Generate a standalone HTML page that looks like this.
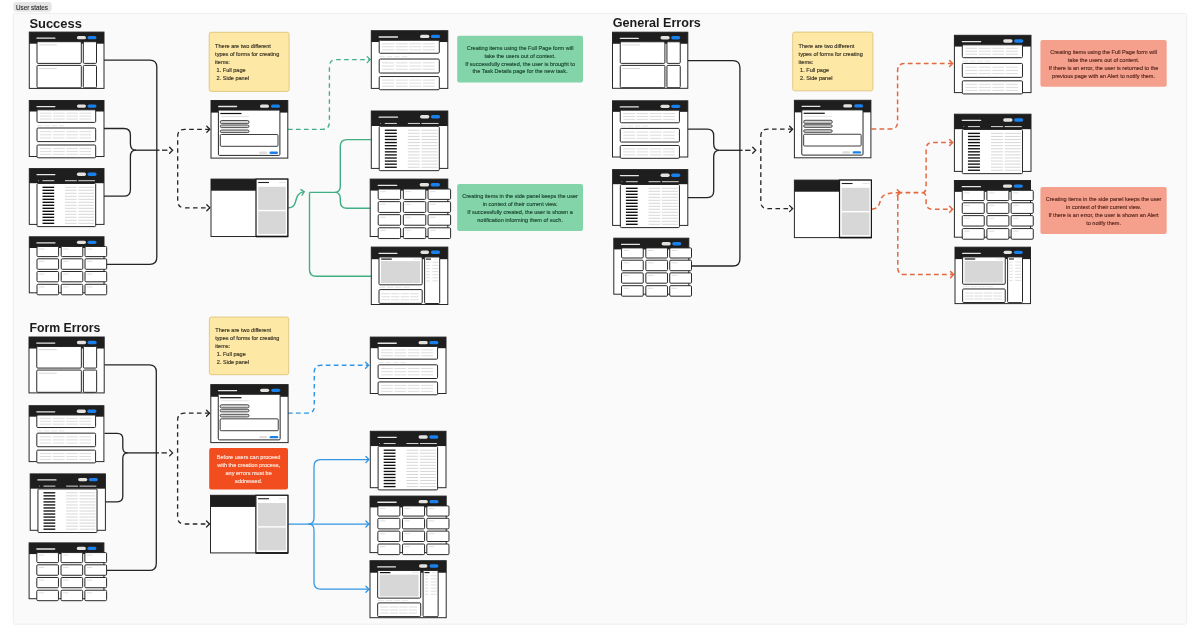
<!DOCTYPE html>
<html><head><meta charset="utf-8"><title>User states</title>
<style>html,body{margin:0;padding:0;background:#fff;width:1200px;height:638px;overflow:hidden}svg{display:block;will-change:transform;font-family:"Liberation Sans",sans-serif}</style>
</head><body>
<svg width="1200" height="638" viewBox="0 0 1200 638">
<rect x="0" y="0" width="1200" height="638" fill="#ffffff"/>
<rect x="13.3" y="13.3" width="1173.3" height="610.9" rx="2" fill="#fafafa" stroke="#ececec" stroke-width="0.9"/>
<rect x="13.3" y="2.1" width="38.4" height="9.6" rx="3" fill="#e5e5e5"/>
<text x="16" y="9.6" font-family="Liberation Sans, sans-serif" font-size="6.3" fill="#2a2a2a" stroke="#2a2a2a" stroke-width="0.12">User states</text>
<text x="29.4" y="27.5" font-family="Liberation Sans, sans-serif" font-weight="bold" font-size="12.9" fill="#1b1b1b" textLength="52.5" lengthAdjust="spacingAndGlyphs">Success</text>
<text x="612.8" y="27.1" font-family="Liberation Sans, sans-serif" font-weight="bold" font-size="12.57" fill="#1b1b1b" textLength="88" lengthAdjust="spacingAndGlyphs">General Errors</text>
<text x="29.4" y="331.7" font-family="Liberation Sans, sans-serif" font-weight="bold" font-size="12.3" fill="#1b1b1b" textLength="71" lengthAdjust="spacingAndGlyphs">Form Errors</text>
<path d="M104,60.1 H149.8 Q156.8,60.1 156.8,67.1 V257.3 Q156.8,264.3 149.8,264.3 H106" fill="none" stroke="#242424" stroke-width="1.3" stroke-linecap="butt" stroke-linejoin="round"/>
<path d="M104,128.5 H123.9 Q130.4,128.5 130.4,135 V143.7 Q130.4,150.2 136,150.2" fill="none" stroke="#242424" stroke-width="1.3" stroke-linecap="butt" stroke-linejoin="round"/>
<path d="M104,196.2 H123.9 Q130.4,196.2 130.4,189.7 V156.7 Q130.4,150.2 136,150.2" fill="none" stroke="#242424" stroke-width="1.3" stroke-linecap="butt" stroke-linejoin="round"/>
<path d="M136,150.2 H159.5" fill="none" stroke="#242424" stroke-width="1.3" stroke-linecap="butt" stroke-linejoin="round"/>
<path d="M162,150.2 H167.4" fill="none" stroke="#242424" stroke-width="1.3" stroke-linecap="butt" stroke-linejoin="round"/>
<path d="M169.6,147.2 L172.6,150.2 L169.6,153.2" fill="none" stroke="#242424" stroke-width="1.3" stroke-linejoin="miter" stroke-linecap="round"/>
<path d="M209.8,129.3 H184.7 Q177.7,129.3 177.7,136.3 V200.8 Q177.7,207.8 184.7,207.8 H209.8" fill="none" stroke="#242424" stroke-width="1.3" stroke-linecap="butt" stroke-linejoin="round" stroke-dasharray="4.6 3.4"/>
<path d="M206.8,126.3 L209.8,129.3 L206.8,132.3" fill="none" stroke="#242424" stroke-width="1.3" stroke-linejoin="miter" stroke-linecap="round"/>
<path d="M206.8,204.8 L209.8,207.8 L206.8,210.8" fill="none" stroke="#242424" stroke-width="1.3" stroke-linejoin="miter" stroke-linecap="round"/>
<path d="M288,129.3 H322.4 Q329.4,129.3 329.4,122.3 V66.6 Q329.4,59.6 336.4,59.6 H370" fill="none" stroke="#40af83" stroke-width="1.35" stroke-linecap="butt" stroke-linejoin="round" stroke-dasharray="4.6 3.4"/>
<path d="M367.2,56.6 L370.2,59.6 L367.2,62.6" fill="none" stroke="#40af83" stroke-width="1.3" stroke-linejoin="miter" stroke-linecap="round"/>
<path d="M288.3,207.8 C294.5,207.8 295.2,203 296.3,199 C297.5,194.5 300,192.3 303.8,191.9" fill="none" stroke="#40af83" stroke-width="1.4" stroke-linecap="butt" stroke-linejoin="round"/>
<path d="M300.88,189.64 L304.2,191.8 L302.04,195.12" fill="none" stroke="#40af83" stroke-width="1.4" stroke-linejoin="miter" stroke-linecap="round"/>
<path d="M309.5,192.4 H335 M309.5,192.4 V269.8 Q309.5,276.3 316,276.3 H371" fill="none" stroke="#40af83" stroke-width="1.4" stroke-linecap="butt" stroke-linejoin="round"/>
<path d="M335,192.4 Q340.3,192.4 340.3,186 V146.3 Q340.3,139.6 347,139.6 H371" fill="none" stroke="#40af83" stroke-width="1.4" stroke-linecap="butt" stroke-linejoin="round"/>
<path d="M335,192.4 Q340.3,192.4 340.3,199 V201.6 Q340.3,208.3 347,208.3 H370" fill="none" stroke="#40af83" stroke-width="1.4" stroke-linecap="butt" stroke-linejoin="round"/>
<path d="M687.1,60.6 H732.9 Q739.9,60.6 739.9,67.6 V259 Q739.9,266 732.9,266 H691.7" fill="none" stroke="#242424" stroke-width="1.3" stroke-linecap="butt" stroke-linejoin="round"/>
<path d="M687.1,129.2 H707.2 Q713.7,129.2 713.7,135.7 V143.8 Q713.7,150.3 719.1,150.3" fill="none" stroke="#242424" stroke-width="1.3" stroke-linecap="butt" stroke-linejoin="round"/>
<path d="M687.1,197.6 H707.2 Q713.7,197.6 713.7,191.1 V156.8 Q713.7,150.3 719.1,150.3" fill="none" stroke="#242424" stroke-width="1.3" stroke-linecap="butt" stroke-linejoin="round"/>
<path d="M719.1,150.3 H742.6" fill="none" stroke="#242424" stroke-width="1.3" stroke-linecap="butt" stroke-linejoin="round"/>
<path d="M745.1,150.3 H750.5" fill="none" stroke="#242424" stroke-width="1.3" stroke-linecap="butt" stroke-linejoin="round"/>
<path d="M752.7,147.3 L755.7,150.3 L752.7,153.3" fill="none" stroke="#242424" stroke-width="1.3" stroke-linejoin="miter" stroke-linecap="round"/>
<path d="M792.6,129.2 H767.8 Q760.8,129.2 760.8,136.2 V201.6 Q760.8,208.6 767.8,208.6 H792.6" fill="none" stroke="#242424" stroke-width="1.3" stroke-linecap="butt" stroke-linejoin="round" stroke-dasharray="4.6 3.4"/>
<path d="M789.6,126.2 L792.6,129.2 L789.6,132.2" fill="none" stroke="#242424" stroke-width="1.3" stroke-linejoin="miter" stroke-linecap="round"/>
<path d="M789.6,205.6 L792.6,208.6 L789.6,211.6" fill="none" stroke="#242424" stroke-width="1.3" stroke-linejoin="miter" stroke-linecap="round"/>
<path d="M871.5,129 H890.6 Q897.6,129 897.6,122 V70.5 Q897.6,63.5 904.6,63.5 H952" fill="none" stroke="#e4683f" stroke-width="1.5" stroke-linecap="butt" stroke-linejoin="round" stroke-dasharray="4.7 3.3"/>
<path d="M949.6,60.5 L952.6,63.5 L949.6,66.5" fill="none" stroke="#e4683f" stroke-width="1.5" stroke-linejoin="miter" stroke-linecap="round"/>
<path d="M871.8,209.2 C879,209.2 879.5,203 880.8,199.5 C882,195.5 885,193 899.5,192.7" fill="none" stroke="#e4683f" stroke-width="1.5" stroke-linecap="butt" stroke-linejoin="round" stroke-dasharray="4.7 3.3"/>
<path d="M897.3,189.8 L900.2,192.7 L897.3,195.6" fill="none" stroke="#e4683f" stroke-width="1.5" stroke-linejoin="miter" stroke-linecap="round"/>
<path d="M897.6,192.7 H922.7" fill="none" stroke="#e4683f" stroke-width="1.8" stroke-linecap="butt" stroke-linejoin="round" stroke-dasharray="4.7 3.3"/>
<path d="M897.8,196 V268 Q897.8,274.6 904.4,274.6 H953" fill="none" stroke="#e4683f" stroke-width="1.5" stroke-linecap="butt" stroke-linejoin="round" stroke-dasharray="4.7 3.3"/>
<path d="M950.6,271.6 L953.6,274.6 L950.6,277.6" fill="none" stroke="#e4683f" stroke-width="1.5" stroke-linejoin="miter" stroke-linecap="round"/>
<path d="M922.7,192.7 Q926.1,192.7 926.1,186 V149 Q926.1,142.5 932.6,142.5 H952" fill="none" stroke="#e4683f" stroke-width="1.5" stroke-linecap="butt" stroke-linejoin="round" stroke-dasharray="4.7 3.3"/>
<path d="M949.6,139.5 L952.6,142.5 L949.6,145.5" fill="none" stroke="#e4683f" stroke-width="1.5" stroke-linejoin="miter" stroke-linecap="round"/>
<path d="M922.7,192.7 Q926.1,192.7 926.1,199.5 V202.6 Q926.1,209.2 932.6,209.2 H952" fill="none" stroke="#e4683f" stroke-width="1.5" stroke-linecap="butt" stroke-linejoin="round" stroke-dasharray="4.7 3.3"/>
<path d="M949.6,206.2 L952.6,209.2 L949.6,212.2" fill="none" stroke="#e4683f" stroke-width="1.5" stroke-linejoin="miter" stroke-linecap="round"/>
<path d="M104.3,364.8 H149.3 Q156.3,364.8 156.3,371.8 V563.4 Q156.3,570.4 149.3,570.4 H106.5" fill="none" stroke="#242424" stroke-width="1.3" stroke-linecap="butt" stroke-linejoin="round"/>
<path d="M104.5,433.3 H117.3 Q122.8,433.3 122.8,438.8 V447.4 Q122.8,452.9 127.8,452.9" fill="none" stroke="#242424" stroke-width="1.3" stroke-linecap="butt" stroke-linejoin="round"/>
<path d="M105.4,501.8 H117.3 Q122.8,501.8 122.8,496.3 V458.4 Q122.8,452.9 127.8,452.9" fill="none" stroke="#242424" stroke-width="1.3" stroke-linecap="butt" stroke-linejoin="round"/>
<path d="M127.8,452.9 H159" fill="none" stroke="#242424" stroke-width="1.3" stroke-linecap="butt" stroke-linejoin="round"/>
<path d="M161.5,452.9 H166.9" fill="none" stroke="#242424" stroke-width="1.3" stroke-linecap="butt" stroke-linejoin="round"/>
<path d="M169.6,449.9 L172.6,452.9 L169.6,455.9" fill="none" stroke="#242424" stroke-width="1.3" stroke-linejoin="miter" stroke-linecap="round"/>
<path d="M209.5,413.2 H184.6 Q177.6,413.2 177.6,420.2 V517 Q177.6,524 184.6,524 H209.5" fill="none" stroke="#242424" stroke-width="1.3" stroke-linecap="butt" stroke-linejoin="round" stroke-dasharray="4.6 3.4"/>
<path d="M206.5,410.2 L209.5,413.2 L206.5,416.2" fill="none" stroke="#242424" stroke-width="1.3" stroke-linejoin="miter" stroke-linecap="round"/>
<path d="M206.5,521 L209.5,524 L206.5,527" fill="none" stroke="#242424" stroke-width="1.3" stroke-linejoin="miter" stroke-linecap="round"/>
<path d="M288,413.1 H307.6 Q314.3,413.1 314.3,406.4 V372 Q314.3,365.3 321,365.3 H368" fill="none" stroke="#3196e4" stroke-width="1.4" stroke-linecap="butt" stroke-linejoin="round" stroke-dasharray="4.7 3.3"/>
<path d="M365.6,362.3 L368.6,365.3 L365.6,368.3" fill="none" stroke="#3196e4" stroke-width="1.4" stroke-linejoin="miter" stroke-linecap="round"/>
<path d="M288.3,524 H368.3" fill="none" stroke="#3196e4" stroke-width="1.25" stroke-linecap="butt" stroke-linejoin="round"/>
<path d="M365.9,521 L368.9,524 L365.9,527" fill="none" stroke="#3196e4" stroke-width="1.35" stroke-linejoin="miter" stroke-linecap="round"/>
<path d="M308.5,524 Q314,524 314,518 V466.2 Q314,459.5 320.7,459.5 H368.3" fill="none" stroke="#3196e4" stroke-width="1.25" stroke-linecap="butt" stroke-linejoin="round"/>
<path d="M365.9,456.5 L368.9,459.5 L365.9,462.5" fill="none" stroke="#3196e4" stroke-width="1.35" stroke-linejoin="miter" stroke-linecap="round"/>
<path d="M308.5,524 Q314,524 314,530 V582.5 Q314,589.2 320.7,589.2 H368.3" fill="none" stroke="#3196e4" stroke-width="1.25" stroke-linecap="butt" stroke-linejoin="round"/>
<path d="M365.9,586.2 L368.9,589.2 L365.9,592.2" fill="none" stroke="#3196e4" stroke-width="1.35" stroke-linejoin="miter" stroke-linecap="round"/>
<rect x="29.3" y="32.1" width="74.7" height="56.3" fill="#fff" stroke="#282828" stroke-width="1"/>
<rect x="29.3" y="32.1" width="74.7" height="11.6" fill="#1e1e1e"/>
<line x1="37" y1="38.2" x2="54.9" y2="38.2" stroke="#e6e6e6" stroke-width="1.3" stroke-linecap="round"/>
<rect x="76.9" y="36" width="9.1" height="3.3" rx="1.65" fill="#e4e2df"/>
<rect x="87.5" y="36" width="9" height="3.3" rx="1.65" fill="#1a80eb"/>
<rect x="37" y="41.7" width="44.3" height="21.7" rx="1.1" fill="#fff" stroke="#282828" stroke-width="1"/>
<rect x="83.3" y="41.7" width="13.2" height="21.7" rx="1.1" fill="#fff" stroke="#282828" stroke-width="1"/>
<line x1="39.1" y1="44.9" x2="56.8" y2="44.9" stroke="#d3d3d3" stroke-width="0.9" stroke-linecap="butt"/>
<rect x="37" y="65.4" width="44.3" height="22.4" rx="1.1" fill="#fff" stroke="#282828" stroke-width="1"/>
<rect x="83.3" y="65.4" width="13.2" height="22.4" rx="1.1" fill="#fff" stroke="#282828" stroke-width="1"/>
<line x1="39.1" y1="68.6" x2="56.8" y2="68.6" stroke="#d3d3d3" stroke-width="0.9" stroke-linecap="butt"/>
<rect x="29.3" y="100.5" width="74.7" height="56" fill="#fff" stroke="#282828" stroke-width="1"/>
<rect x="29.3" y="100.5" width="74.7" height="11" fill="#1e1e1e"/>
<line x1="37" y1="106.6" x2="54.9" y2="106.6" stroke="#e6e6e6" stroke-width="1.3" stroke-linecap="round"/>
<rect x="76.9" y="104.4" width="9.1" height="3.3" rx="1.65" fill="#e4e2df"/>
<rect x="87.5" y="104.4" width="9" height="3.3" rx="1.65" fill="#1a80eb"/>
<rect x="37" y="109.8" width="58.7" height="12.6" rx="1.1" fill="#fff" stroke="#282828" stroke-width="1"/>
<line x1="40" y1="113.2" x2="51.59" y2="113.2" stroke="#d3d3d3" stroke-width="0.8" stroke-linecap="butt"/>
<line x1="53.17" y1="113.2" x2="64.77" y2="113.2" stroke="#d3d3d3" stroke-width="0.8" stroke-linecap="butt"/>
<line x1="66.35" y1="113.2" x2="77.94" y2="113.2" stroke="#d3d3d3" stroke-width="0.8" stroke-linecap="butt"/>
<line x1="79.53" y1="113.2" x2="91.12" y2="113.2" stroke="#d3d3d3" stroke-width="0.8" stroke-linecap="butt"/>
<line x1="40" y1="116.1" x2="51.59" y2="116.1" stroke="#d3d3d3" stroke-width="0.8" stroke-linecap="butt"/>
<line x1="53.17" y1="116.1" x2="64.77" y2="116.1" stroke="#d3d3d3" stroke-width="0.8" stroke-linecap="butt"/>
<line x1="66.35" y1="116.1" x2="77.94" y2="116.1" stroke="#d3d3d3" stroke-width="0.8" stroke-linecap="butt"/>
<line x1="79.53" y1="116.1" x2="91.12" y2="116.1" stroke="#d3d3d3" stroke-width="0.8" stroke-linecap="butt"/>
<line x1="40" y1="119" x2="51.59" y2="119" stroke="#d3d3d3" stroke-width="0.8" stroke-linecap="butt"/>
<line x1="53.17" y1="119" x2="64.77" y2="119" stroke="#d3d3d3" stroke-width="0.8" stroke-linecap="butt"/>
<line x1="66.35" y1="119" x2="77.94" y2="119" stroke="#d3d3d3" stroke-width="0.8" stroke-linecap="butt"/>
<line x1="79.53" y1="119" x2="91.12" y2="119" stroke="#d3d3d3" stroke-width="0.8" stroke-linecap="butt"/>
<rect x="37" y="128" width="58.7" height="13.6" rx="1.1" fill="#fff" stroke="#282828" stroke-width="1"/>
<line x1="40" y1="131.67" x2="51.59" y2="131.67" stroke="#d3d3d3" stroke-width="0.8" stroke-linecap="butt"/>
<line x1="53.17" y1="131.67" x2="64.77" y2="131.67" stroke="#d3d3d3" stroke-width="0.8" stroke-linecap="butt"/>
<line x1="66.35" y1="131.67" x2="77.94" y2="131.67" stroke="#d3d3d3" stroke-width="0.8" stroke-linecap="butt"/>
<line x1="79.53" y1="131.67" x2="91.12" y2="131.67" stroke="#d3d3d3" stroke-width="0.8" stroke-linecap="butt"/>
<line x1="40" y1="134.8" x2="51.59" y2="134.8" stroke="#d3d3d3" stroke-width="0.8" stroke-linecap="butt"/>
<line x1="53.17" y1="134.8" x2="64.77" y2="134.8" stroke="#d3d3d3" stroke-width="0.8" stroke-linecap="butt"/>
<line x1="66.35" y1="134.8" x2="77.94" y2="134.8" stroke="#d3d3d3" stroke-width="0.8" stroke-linecap="butt"/>
<line x1="79.53" y1="134.8" x2="91.12" y2="134.8" stroke="#d3d3d3" stroke-width="0.8" stroke-linecap="butt"/>
<line x1="40" y1="137.93" x2="51.59" y2="137.93" stroke="#d3d3d3" stroke-width="0.8" stroke-linecap="butt"/>
<line x1="53.17" y1="137.93" x2="64.77" y2="137.93" stroke="#d3d3d3" stroke-width="0.8" stroke-linecap="butt"/>
<line x1="66.35" y1="137.93" x2="77.94" y2="137.93" stroke="#d3d3d3" stroke-width="0.8" stroke-linecap="butt"/>
<line x1="79.53" y1="137.93" x2="91.12" y2="137.93" stroke="#d3d3d3" stroke-width="0.8" stroke-linecap="butt"/>
<rect x="37" y="145" width="58.7" height="12.8" rx="1.1" fill="#fff" stroke="#282828" stroke-width="1"/>
<line x1="40" y1="148.46" x2="51.59" y2="148.46" stroke="#d3d3d3" stroke-width="0.8" stroke-linecap="butt"/>
<line x1="53.17" y1="148.46" x2="64.77" y2="148.46" stroke="#d3d3d3" stroke-width="0.8" stroke-linecap="butt"/>
<line x1="66.35" y1="148.46" x2="77.94" y2="148.46" stroke="#d3d3d3" stroke-width="0.8" stroke-linecap="butt"/>
<line x1="79.53" y1="148.46" x2="91.12" y2="148.46" stroke="#d3d3d3" stroke-width="0.8" stroke-linecap="butt"/>
<line x1="40" y1="151.4" x2="51.59" y2="151.4" stroke="#d3d3d3" stroke-width="0.8" stroke-linecap="butt"/>
<line x1="53.17" y1="151.4" x2="64.77" y2="151.4" stroke="#d3d3d3" stroke-width="0.8" stroke-linecap="butt"/>
<line x1="66.35" y1="151.4" x2="77.94" y2="151.4" stroke="#d3d3d3" stroke-width="0.8" stroke-linecap="butt"/>
<line x1="79.53" y1="151.4" x2="91.12" y2="151.4" stroke="#d3d3d3" stroke-width="0.8" stroke-linecap="butt"/>
<line x1="40" y1="154.34" x2="51.59" y2="154.34" stroke="#d3d3d3" stroke-width="0.8" stroke-linecap="butt"/>
<line x1="53.17" y1="154.34" x2="64.77" y2="154.34" stroke="#d3d3d3" stroke-width="0.8" stroke-linecap="butt"/>
<line x1="66.35" y1="154.34" x2="77.94" y2="154.34" stroke="#d3d3d3" stroke-width="0.8" stroke-linecap="butt"/>
<line x1="79.53" y1="154.34" x2="91.12" y2="154.34" stroke="#d3d3d3" stroke-width="0.8" stroke-linecap="butt"/>
<line x1="37" y1="125.7" x2="42.49" y2="125.7" stroke="#dadada" stroke-width="0.7" stroke-linecap="butt"/>
<line x1="44.33" y1="125.7" x2="49.82" y2="125.7" stroke="#dadada" stroke-width="0.7" stroke-linecap="butt"/>
<line x1="51.65" y1="125.7" x2="57.14" y2="125.7" stroke="#dadada" stroke-width="0.7" stroke-linecap="butt"/>
<line x1="58.97" y1="125.7" x2="64.47" y2="125.7" stroke="#dadada" stroke-width="0.7" stroke-linecap="butt"/>
<rect x="29.3" y="168.6" width="74.7" height="55.8" fill="#fff" stroke="#282828" stroke-width="1"/>
<rect x="29.3" y="168.6" width="74.7" height="14.6" fill="#1e1e1e"/>
<line x1="37" y1="174.6" x2="54.9" y2="174.6" stroke="#e6e6e6" stroke-width="1.3" stroke-linecap="round"/>
<rect x="76.9" y="172.6" width="9.1" height="3.3" rx="1.65" fill="#e4e2df"/>
<rect x="87.5" y="172.6" width="9" height="3.3" rx="1.65" fill="#1a80eb"/>
<line x1="38.2" y1="180.7" x2="38.9" y2="180.7" stroke="#cfcfcf" stroke-width="0.9" stroke-linecap="butt"/>
<line x1="42.5" y1="180.7" x2="54.3" y2="180.7" stroke="#d8d8d8" stroke-width="1" stroke-linecap="butt"/>
<line x1="65" y1="180.7" x2="76.8" y2="180.7" stroke="#d8d8d8" stroke-width="1" stroke-linecap="butt"/>
<line x1="78.3" y1="180.7" x2="95" y2="180.7" stroke="#d8d8d8" stroke-width="1" stroke-linecap="butt"/>
<rect x="37" y="183.5" width="58.7" height="43.1" rx="1.1" fill="#fff" stroke="#282828" stroke-width="1"/>
<line x1="42.5" y1="187.3" x2="54.2" y2="187.3" stroke="#111" stroke-width="1.35" stroke-linecap="butt"/>
<line x1="65" y1="187.3" x2="76.6" y2="187.3" stroke="#d3d3d3" stroke-width="0.9" stroke-linecap="butt"/>
<line x1="78.3" y1="187.3" x2="94" y2="187.3" stroke="#d3d3d3" stroke-width="0.9" stroke-linecap="butt"/>
<line x1="42.5" y1="190.3" x2="54.2" y2="190.3" stroke="#111" stroke-width="1.35" stroke-linecap="butt"/>
<line x1="65" y1="190.3" x2="76.6" y2="190.3" stroke="#d3d3d3" stroke-width="0.9" stroke-linecap="butt"/>
<line x1="78.3" y1="190.3" x2="94" y2="190.3" stroke="#d3d3d3" stroke-width="0.9" stroke-linecap="butt"/>
<line x1="42.5" y1="193.3" x2="54.2" y2="193.3" stroke="#111" stroke-width="1.35" stroke-linecap="butt"/>
<line x1="65" y1="193.3" x2="76.6" y2="193.3" stroke="#d3d3d3" stroke-width="0.9" stroke-linecap="butt"/>
<line x1="78.3" y1="193.3" x2="94" y2="193.3" stroke="#d3d3d3" stroke-width="0.9" stroke-linecap="butt"/>
<line x1="42.5" y1="196.3" x2="54.2" y2="196.3" stroke="#111" stroke-width="1.35" stroke-linecap="butt"/>
<line x1="65" y1="196.3" x2="76.6" y2="196.3" stroke="#d3d3d3" stroke-width="0.9" stroke-linecap="butt"/>
<line x1="78.3" y1="196.3" x2="94" y2="196.3" stroke="#d3d3d3" stroke-width="0.9" stroke-linecap="butt"/>
<line x1="42.5" y1="199.3" x2="54.2" y2="199.3" stroke="#111" stroke-width="1.35" stroke-linecap="butt"/>
<line x1="65" y1="199.3" x2="76.6" y2="199.3" stroke="#d3d3d3" stroke-width="0.9" stroke-linecap="butt"/>
<line x1="78.3" y1="199.3" x2="94" y2="199.3" stroke="#d3d3d3" stroke-width="0.9" stroke-linecap="butt"/>
<line x1="42.5" y1="202.3" x2="54.2" y2="202.3" stroke="#111" stroke-width="1.35" stroke-linecap="butt"/>
<line x1="65" y1="202.3" x2="76.6" y2="202.3" stroke="#d3d3d3" stroke-width="0.9" stroke-linecap="butt"/>
<line x1="78.3" y1="202.3" x2="94" y2="202.3" stroke="#d3d3d3" stroke-width="0.9" stroke-linecap="butt"/>
<line x1="42.5" y1="205.3" x2="54.2" y2="205.3" stroke="#111" stroke-width="1.35" stroke-linecap="butt"/>
<line x1="65" y1="205.3" x2="76.6" y2="205.3" stroke="#d3d3d3" stroke-width="0.9" stroke-linecap="butt"/>
<line x1="78.3" y1="205.3" x2="94" y2="205.3" stroke="#d3d3d3" stroke-width="0.9" stroke-linecap="butt"/>
<line x1="42.5" y1="208.3" x2="54.2" y2="208.3" stroke="#111" stroke-width="1.35" stroke-linecap="butt"/>
<line x1="65" y1="208.3" x2="76.6" y2="208.3" stroke="#d3d3d3" stroke-width="0.9" stroke-linecap="butt"/>
<line x1="78.3" y1="208.3" x2="94" y2="208.3" stroke="#d3d3d3" stroke-width="0.9" stroke-linecap="butt"/>
<line x1="42.5" y1="211.3" x2="54.2" y2="211.3" stroke="#111" stroke-width="1.35" stroke-linecap="butt"/>
<line x1="65" y1="211.3" x2="76.6" y2="211.3" stroke="#d3d3d3" stroke-width="0.9" stroke-linecap="butt"/>
<line x1="78.3" y1="211.3" x2="94" y2="211.3" stroke="#d3d3d3" stroke-width="0.9" stroke-linecap="butt"/>
<line x1="42.5" y1="214.3" x2="54.2" y2="214.3" stroke="#111" stroke-width="1.35" stroke-linecap="butt"/>
<line x1="65" y1="214.3" x2="76.6" y2="214.3" stroke="#d3d3d3" stroke-width="0.9" stroke-linecap="butt"/>
<line x1="78.3" y1="214.3" x2="94" y2="214.3" stroke="#d3d3d3" stroke-width="0.9" stroke-linecap="butt"/>
<line x1="42.5" y1="217.3" x2="54.2" y2="217.3" stroke="#111" stroke-width="1.35" stroke-linecap="butt"/>
<line x1="65" y1="217.3" x2="76.6" y2="217.3" stroke="#d3d3d3" stroke-width="0.9" stroke-linecap="butt"/>
<line x1="78.3" y1="217.3" x2="94" y2="217.3" stroke="#d3d3d3" stroke-width="0.9" stroke-linecap="butt"/>
<line x1="42.5" y1="220.3" x2="54.2" y2="220.3" stroke="#111" stroke-width="1.35" stroke-linecap="butt"/>
<line x1="65" y1="220.3" x2="76.6" y2="220.3" stroke="#d3d3d3" stroke-width="0.9" stroke-linecap="butt"/>
<line x1="78.3" y1="220.3" x2="94" y2="220.3" stroke="#d3d3d3" stroke-width="0.9" stroke-linecap="butt"/>
<line x1="42.5" y1="223.3" x2="54.2" y2="223.3" stroke="#111" stroke-width="1.35" stroke-linecap="butt"/>
<line x1="65" y1="223.3" x2="76.6" y2="223.3" stroke="#d3d3d3" stroke-width="0.9" stroke-linecap="butt"/>
<line x1="78.3" y1="223.3" x2="94" y2="223.3" stroke="#d3d3d3" stroke-width="0.9" stroke-linecap="butt"/>
<rect x="29.3" y="236.8" width="74.7" height="56" fill="#fff" stroke="#282828" stroke-width="1"/>
<rect x="29.3" y="236.8" width="74.7" height="11.2" fill="#1e1e1e"/>
<line x1="37" y1="242.9" x2="54.9" y2="242.9" stroke="#e6e6e6" stroke-width="1.3" stroke-linecap="round"/>
<rect x="76.9" y="240.7" width="9.1" height="3.3" rx="1.65" fill="#e4e2df"/>
<rect x="87.5" y="240.7" width="9" height="3.3" rx="1.65" fill="#1a80eb"/>
<rect x="37" y="246.5" width="21.6" height="10.1" rx="1.1" fill="#fff" stroke="#282828" stroke-width="1"/>
<line x1="39" y1="249.1" x2="44.5" y2="249.1" stroke="#d0d0d0" stroke-width="0.7" stroke-linecap="butt"/>
<rect x="61.2" y="246.5" width="21.6" height="10.1" rx="1.1" fill="#fff" stroke="#282828" stroke-width="1"/>
<line x1="63.2" y1="249.1" x2="68.7" y2="249.1" stroke="#d0d0d0" stroke-width="0.7" stroke-linecap="butt"/>
<rect x="85" y="246.5" width="21.7" height="10.1" rx="1.1" fill="#fff" stroke="#282828" stroke-width="1"/>
<line x1="87" y1="249.1" x2="92.5" y2="249.1" stroke="#d0d0d0" stroke-width="0.7" stroke-linecap="butt"/>
<rect x="37" y="258.8" width="21.6" height="10.5" rx="1.1" fill="#fff" stroke="#282828" stroke-width="1"/>
<line x1="39" y1="261.4" x2="44.5" y2="261.4" stroke="#d0d0d0" stroke-width="0.7" stroke-linecap="butt"/>
<rect x="61.2" y="258.8" width="21.6" height="10.5" rx="1.1" fill="#fff" stroke="#282828" stroke-width="1"/>
<line x1="63.2" y1="261.4" x2="68.7" y2="261.4" stroke="#d0d0d0" stroke-width="0.7" stroke-linecap="butt"/>
<rect x="85" y="258.8" width="21.7" height="10.5" rx="1.1" fill="#fff" stroke="#282828" stroke-width="1"/>
<line x1="87" y1="261.4" x2="92.5" y2="261.4" stroke="#d0d0d0" stroke-width="0.7" stroke-linecap="butt"/>
<rect x="37" y="271.5" width="21.6" height="10.3" rx="1.1" fill="#fff" stroke="#282828" stroke-width="1"/>
<line x1="39" y1="274.1" x2="44.5" y2="274.1" stroke="#d0d0d0" stroke-width="0.7" stroke-linecap="butt"/>
<rect x="61.2" y="271.5" width="21.6" height="10.3" rx="1.1" fill="#fff" stroke="#282828" stroke-width="1"/>
<line x1="63.2" y1="274.1" x2="68.7" y2="274.1" stroke="#d0d0d0" stroke-width="0.7" stroke-linecap="butt"/>
<rect x="85" y="271.5" width="21.7" height="10.3" rx="1.1" fill="#fff" stroke="#282828" stroke-width="1"/>
<line x1="87" y1="274.1" x2="92.5" y2="274.1" stroke="#d0d0d0" stroke-width="0.7" stroke-linecap="butt"/>
<rect x="37" y="284.3" width="21.6" height="10.5" rx="1.1" fill="#fff" stroke="#282828" stroke-width="1"/>
<line x1="39" y1="286.9" x2="44.5" y2="286.9" stroke="#d0d0d0" stroke-width="0.7" stroke-linecap="butt"/>
<rect x="61.2" y="284.3" width="21.6" height="10.5" rx="1.1" fill="#fff" stroke="#282828" stroke-width="1"/>
<line x1="63.2" y1="286.9" x2="68.7" y2="286.9" stroke="#d0d0d0" stroke-width="0.7" stroke-linecap="butt"/>
<rect x="85" y="284.3" width="21.7" height="10.5" rx="1.1" fill="#fff" stroke="#282828" stroke-width="1"/>
<line x1="87" y1="286.9" x2="92.5" y2="286.9" stroke="#d0d0d0" stroke-width="0.7" stroke-linecap="butt"/>
<rect x="209.2" y="32.3" width="79.9" height="59.1" rx="2" fill="#fde8a5" stroke="#dcbf73" stroke-width="0.8"/>
<text x="215.1" y="48.4" font-family="Liberation Sans, sans-serif" font-size="5.55" fill="#3b3526" stroke="#3b3526" stroke-width="0.16" text-anchor="start">There are two different</text>
<text x="215.1" y="56.28" font-family="Liberation Sans, sans-serif" font-size="5.55" fill="#3b3526" stroke="#3b3526" stroke-width="0.16" text-anchor="start">types of forms for creating</text>
<text x="215.1" y="64.16" font-family="Liberation Sans, sans-serif" font-size="5.55" fill="#3b3526" stroke="#3b3526" stroke-width="0.16" text-anchor="start">items:</text>
<text x="216.6" y="72.04" font-family="Liberation Sans, sans-serif" font-size="5.55" fill="#3b3526" stroke="#3b3526" stroke-width="0.16" text-anchor="start">1. Full page</text>
<text x="216.6" y="79.92" font-family="Liberation Sans, sans-serif" font-size="5.55" fill="#3b3526" stroke="#3b3526" stroke-width="0.16" text-anchor="start">2. Side panel</text>
<rect x="211" y="100.5" width="76.8" height="57.6" fill="#fff" stroke="#282828" stroke-width="1"/>
<rect x="211" y="100.5" width="76.8" height="12.1" fill="#1e1e1e"/>
<line x1="218.7" y1="106.5" x2="236.6" y2="106.5" stroke="#e6e6e6" stroke-width="1.3" stroke-linecap="round"/>
<rect x="260" y="104.5" width="9" height="3.3" rx="1.65" fill="#e4e2df"/>
<rect x="271" y="104.5" width="9" height="3.3" rx="1.65" fill="#1a80eb"/>
<rect x="218.4" y="110.1" width="61.5" height="45.3" rx="1.1" fill="#fff" stroke="#282828" stroke-width="1"/>
<line x1="220.3" y1="113.5" x2="241.5" y2="113.5" stroke="#111" stroke-width="1.2" stroke-linecap="butt"/>
<line x1="221" y1="116.5" x2="249" y2="116.5" stroke="#dcdcdc" stroke-width="0.8" stroke-linecap="butt"/>
<rect x="220.3" y="120.5" width="28.7" height="3.1" rx="1.4" fill="#d4d4d4" stroke="#282828" stroke-width="0.8"/>
<rect x="220.3" y="125" width="28.7" height="2.6" rx="1.4" fill="#d4d4d4" stroke="#282828" stroke-width="0.8"/>
<rect x="220.3" y="130" width="28.7" height="2.6" rx="1.4" fill="#d4d4d4" stroke="#282828" stroke-width="0.8"/>
<rect x="220.3" y="134.5" width="57.7" height="11.8" rx="1" fill="#fff" stroke="#282828" stroke-width="0.9"/>
<rect x="259" y="151.5" width="8" height="2.4" rx="1.2" fill="#dedede"/>
<rect x="269.5" y="151.5" width="8.5" height="2.4" rx="1.2" fill="#1a80eb"/>
<rect x="211" y="179.1" width="76.8" height="57.4" fill="#fff" stroke="#282828" stroke-width="1"/>
<rect x="211" y="179.1" width="45" height="11.6" fill="#1e1e1e"/>
<rect x="256" y="179.1" width="31.8" height="57.4" fill="#fff" stroke="#1a1a1a" stroke-width="1.2"/>
<line x1="258.2" y1="182.5" x2="269" y2="182.5" stroke="#222" stroke-width="1.1" stroke-linecap="butt"/>
<line x1="279" y1="182.5" x2="285.8" y2="182.5" stroke="#dddddd" stroke-width="0.8" stroke-linecap="butt"/>
<rect x="258.2" y="186.8" width="27.6" height="23.1" fill="#d7d7d7"/>
<rect x="258.2" y="211.3" width="27.6" height="22.7" fill="#d7d7d7"/>
<line x1="256" y1="236.5" x2="287.8" y2="236.5" stroke="#111" stroke-width="1.5" stroke-linecap="butt"/>
<rect x="371.3" y="30.7" width="76.5" height="57.7" fill="#fff" stroke="#282828" stroke-width="1"/>
<rect x="371.3" y="30.7" width="76.5" height="11.33" fill="#1e1e1e"/>
<line x1="379.19" y1="36.99" x2="397.52" y2="36.99" stroke="#e6e6e6" stroke-width="1.3" stroke-linecap="round"/>
<rect x="420.05" y="34.72" width="9.32" height="3.4" rx="1.7" fill="#e4e2df"/>
<rect x="430.9" y="34.72" width="9.22" height="3.4" rx="1.7" fill="#1a80eb"/>
<rect x="379.19" y="40.28" width="60.11" height="12.98" rx="1.1" fill="#fff" stroke="#282828" stroke-width="1"/>
<line x1="382.19" y1="43.79" x2="394.09" y2="43.79" stroke="#d3d3d3" stroke-width="0.8" stroke-linecap="butt"/>
<line x1="395.71" y1="43.79" x2="407.62" y2="43.79" stroke="#d3d3d3" stroke-width="0.8" stroke-linecap="butt"/>
<line x1="409.24" y1="43.79" x2="421.15" y2="43.79" stroke="#d3d3d3" stroke-width="0.8" stroke-linecap="butt"/>
<line x1="422.77" y1="43.79" x2="434.68" y2="43.79" stroke="#d3d3d3" stroke-width="0.8" stroke-linecap="butt"/>
<line x1="382.19" y1="46.77" x2="394.09" y2="46.77" stroke="#d3d3d3" stroke-width="0.8" stroke-linecap="butt"/>
<line x1="395.71" y1="46.77" x2="407.62" y2="46.77" stroke="#d3d3d3" stroke-width="0.8" stroke-linecap="butt"/>
<line x1="409.24" y1="46.77" x2="421.15" y2="46.77" stroke="#d3d3d3" stroke-width="0.8" stroke-linecap="butt"/>
<line x1="422.77" y1="46.77" x2="434.68" y2="46.77" stroke="#d3d3d3" stroke-width="0.8" stroke-linecap="butt"/>
<line x1="382.19" y1="49.76" x2="394.09" y2="49.76" stroke="#d3d3d3" stroke-width="0.8" stroke-linecap="butt"/>
<line x1="395.71" y1="49.76" x2="407.62" y2="49.76" stroke="#d3d3d3" stroke-width="0.8" stroke-linecap="butt"/>
<line x1="409.24" y1="49.76" x2="421.15" y2="49.76" stroke="#d3d3d3" stroke-width="0.8" stroke-linecap="butt"/>
<line x1="422.77" y1="49.76" x2="434.68" y2="49.76" stroke="#d3d3d3" stroke-width="0.8" stroke-linecap="butt"/>
<rect x="379.19" y="59.03" width="60.11" height="14.01" rx="1.1" fill="#fff" stroke="#282828" stroke-width="1"/>
<line x1="382.19" y1="62.82" x2="394.09" y2="62.82" stroke="#d3d3d3" stroke-width="0.8" stroke-linecap="butt"/>
<line x1="395.71" y1="62.82" x2="407.62" y2="62.82" stroke="#d3d3d3" stroke-width="0.8" stroke-linecap="butt"/>
<line x1="409.24" y1="62.82" x2="421.15" y2="62.82" stroke="#d3d3d3" stroke-width="0.8" stroke-linecap="butt"/>
<line x1="422.77" y1="62.82" x2="434.68" y2="62.82" stroke="#d3d3d3" stroke-width="0.8" stroke-linecap="butt"/>
<line x1="382.19" y1="66.04" x2="394.09" y2="66.04" stroke="#d3d3d3" stroke-width="0.8" stroke-linecap="butt"/>
<line x1="395.71" y1="66.04" x2="407.62" y2="66.04" stroke="#d3d3d3" stroke-width="0.8" stroke-linecap="butt"/>
<line x1="409.24" y1="66.04" x2="421.15" y2="66.04" stroke="#d3d3d3" stroke-width="0.8" stroke-linecap="butt"/>
<line x1="422.77" y1="66.04" x2="434.68" y2="66.04" stroke="#d3d3d3" stroke-width="0.8" stroke-linecap="butt"/>
<line x1="382.19" y1="69.26" x2="394.09" y2="69.26" stroke="#d3d3d3" stroke-width="0.8" stroke-linecap="butt"/>
<line x1="395.71" y1="69.26" x2="407.62" y2="69.26" stroke="#d3d3d3" stroke-width="0.8" stroke-linecap="butt"/>
<line x1="409.24" y1="69.26" x2="421.15" y2="69.26" stroke="#d3d3d3" stroke-width="0.8" stroke-linecap="butt"/>
<line x1="422.77" y1="69.26" x2="434.68" y2="69.26" stroke="#d3d3d3" stroke-width="0.8" stroke-linecap="butt"/>
<rect x="379.19" y="76.55" width="60.11" height="13.19" rx="1.1" fill="#fff" stroke="#282828" stroke-width="1"/>
<line x1="382.19" y1="80.11" x2="394.09" y2="80.11" stroke="#d3d3d3" stroke-width="0.8" stroke-linecap="butt"/>
<line x1="395.71" y1="80.11" x2="407.62" y2="80.11" stroke="#d3d3d3" stroke-width="0.8" stroke-linecap="butt"/>
<line x1="409.24" y1="80.11" x2="421.15" y2="80.11" stroke="#d3d3d3" stroke-width="0.8" stroke-linecap="butt"/>
<line x1="422.77" y1="80.11" x2="434.68" y2="80.11" stroke="#d3d3d3" stroke-width="0.8" stroke-linecap="butt"/>
<line x1="382.19" y1="83.15" x2="394.09" y2="83.15" stroke="#d3d3d3" stroke-width="0.8" stroke-linecap="butt"/>
<line x1="395.71" y1="83.15" x2="407.62" y2="83.15" stroke="#d3d3d3" stroke-width="0.8" stroke-linecap="butt"/>
<line x1="409.24" y1="83.15" x2="421.15" y2="83.15" stroke="#d3d3d3" stroke-width="0.8" stroke-linecap="butt"/>
<line x1="422.77" y1="83.15" x2="434.68" y2="83.15" stroke="#d3d3d3" stroke-width="0.8" stroke-linecap="butt"/>
<line x1="382.19" y1="86.18" x2="394.09" y2="86.18" stroke="#d3d3d3" stroke-width="0.8" stroke-linecap="butt"/>
<line x1="395.71" y1="86.18" x2="407.62" y2="86.18" stroke="#d3d3d3" stroke-width="0.8" stroke-linecap="butt"/>
<line x1="409.24" y1="86.18" x2="421.15" y2="86.18" stroke="#d3d3d3" stroke-width="0.8" stroke-linecap="butt"/>
<line x1="422.77" y1="86.18" x2="434.68" y2="86.18" stroke="#d3d3d3" stroke-width="0.8" stroke-linecap="butt"/>
<line x1="379.19" y1="56.67" x2="384.81" y2="56.67" stroke="#dadada" stroke-width="0.7" stroke-linecap="butt"/>
<line x1="386.69" y1="56.67" x2="392.31" y2="56.67" stroke="#dadada" stroke-width="0.7" stroke-linecap="butt"/>
<line x1="394.19" y1="56.67" x2="399.81" y2="56.67" stroke="#dadada" stroke-width="0.7" stroke-linecap="butt"/>
<line x1="401.69" y1="56.67" x2="407.32" y2="56.67" stroke="#dadada" stroke-width="0.7" stroke-linecap="butt"/>
<rect x="371.3" y="111" width="76.5" height="57.4" fill="#fff" stroke="#282828" stroke-width="1"/>
<rect x="371.3" y="111" width="76.5" height="15.02" fill="#1e1e1e"/>
<line x1="379.19" y1="117.17" x2="397.52" y2="117.17" stroke="#e6e6e6" stroke-width="1.3" stroke-linecap="round"/>
<rect x="420.05" y="115.11" width="9.32" height="3.39" rx="1.7" fill="#e4e2df"/>
<rect x="430.9" y="115.11" width="9.22" height="3.39" rx="1.7" fill="#1a80eb"/>
<line x1="380.41" y1="123.45" x2="381.13" y2="123.45" stroke="#cfcfcf" stroke-width="0.9" stroke-linecap="butt"/>
<line x1="384.82" y1="123.45" x2="396.9" y2="123.45" stroke="#d8d8d8" stroke-width="1" stroke-linecap="butt"/>
<line x1="407.86" y1="123.45" x2="419.94" y2="123.45" stroke="#d8d8d8" stroke-width="1" stroke-linecap="butt"/>
<line x1="421.48" y1="123.45" x2="438.58" y2="123.45" stroke="#d8d8d8" stroke-width="1" stroke-linecap="butt"/>
<rect x="379.19" y="126.33" width="60.11" height="44.34" rx="1.1" fill="#fff" stroke="#282828" stroke-width="1"/>
<line x1="384.82" y1="130.24" x2="396.8" y2="130.24" stroke="#111" stroke-width="1.35" stroke-linecap="butt"/>
<line x1="407.86" y1="130.24" x2="419.74" y2="130.24" stroke="#d3d3d3" stroke-width="0.9" stroke-linecap="butt"/>
<line x1="421.48" y1="130.24" x2="437.56" y2="130.24" stroke="#d3d3d3" stroke-width="0.9" stroke-linecap="butt"/>
<line x1="384.82" y1="133.32" x2="396.8" y2="133.32" stroke="#111" stroke-width="1.35" stroke-linecap="butt"/>
<line x1="407.86" y1="133.32" x2="419.74" y2="133.32" stroke="#d3d3d3" stroke-width="0.9" stroke-linecap="butt"/>
<line x1="421.48" y1="133.32" x2="437.56" y2="133.32" stroke="#d3d3d3" stroke-width="0.9" stroke-linecap="butt"/>
<line x1="384.82" y1="136.41" x2="396.8" y2="136.41" stroke="#111" stroke-width="1.35" stroke-linecap="butt"/>
<line x1="407.86" y1="136.41" x2="419.74" y2="136.41" stroke="#d3d3d3" stroke-width="0.9" stroke-linecap="butt"/>
<line x1="421.48" y1="136.41" x2="437.56" y2="136.41" stroke="#d3d3d3" stroke-width="0.9" stroke-linecap="butt"/>
<line x1="384.82" y1="139.49" x2="396.8" y2="139.49" stroke="#111" stroke-width="1.35" stroke-linecap="butt"/>
<line x1="407.86" y1="139.49" x2="419.74" y2="139.49" stroke="#d3d3d3" stroke-width="0.9" stroke-linecap="butt"/>
<line x1="421.48" y1="139.49" x2="437.56" y2="139.49" stroke="#d3d3d3" stroke-width="0.9" stroke-linecap="butt"/>
<line x1="384.82" y1="142.58" x2="396.8" y2="142.58" stroke="#111" stroke-width="1.35" stroke-linecap="butt"/>
<line x1="407.86" y1="142.58" x2="419.74" y2="142.58" stroke="#d3d3d3" stroke-width="0.9" stroke-linecap="butt"/>
<line x1="421.48" y1="142.58" x2="437.56" y2="142.58" stroke="#d3d3d3" stroke-width="0.9" stroke-linecap="butt"/>
<line x1="384.82" y1="145.67" x2="396.8" y2="145.67" stroke="#111" stroke-width="1.35" stroke-linecap="butt"/>
<line x1="407.86" y1="145.67" x2="419.74" y2="145.67" stroke="#d3d3d3" stroke-width="0.9" stroke-linecap="butt"/>
<line x1="421.48" y1="145.67" x2="437.56" y2="145.67" stroke="#d3d3d3" stroke-width="0.9" stroke-linecap="butt"/>
<line x1="384.82" y1="148.75" x2="396.8" y2="148.75" stroke="#111" stroke-width="1.35" stroke-linecap="butt"/>
<line x1="407.86" y1="148.75" x2="419.74" y2="148.75" stroke="#d3d3d3" stroke-width="0.9" stroke-linecap="butt"/>
<line x1="421.48" y1="148.75" x2="437.56" y2="148.75" stroke="#d3d3d3" stroke-width="0.9" stroke-linecap="butt"/>
<line x1="384.82" y1="151.84" x2="396.8" y2="151.84" stroke="#111" stroke-width="1.35" stroke-linecap="butt"/>
<line x1="407.86" y1="151.84" x2="419.74" y2="151.84" stroke="#d3d3d3" stroke-width="0.9" stroke-linecap="butt"/>
<line x1="421.48" y1="151.84" x2="437.56" y2="151.84" stroke="#d3d3d3" stroke-width="0.9" stroke-linecap="butt"/>
<line x1="384.82" y1="154.92" x2="396.8" y2="154.92" stroke="#111" stroke-width="1.35" stroke-linecap="butt"/>
<line x1="407.86" y1="154.92" x2="419.74" y2="154.92" stroke="#d3d3d3" stroke-width="0.9" stroke-linecap="butt"/>
<line x1="421.48" y1="154.92" x2="437.56" y2="154.92" stroke="#d3d3d3" stroke-width="0.9" stroke-linecap="butt"/>
<line x1="384.82" y1="158.01" x2="396.8" y2="158.01" stroke="#111" stroke-width="1.35" stroke-linecap="butt"/>
<line x1="407.86" y1="158.01" x2="419.74" y2="158.01" stroke="#d3d3d3" stroke-width="0.9" stroke-linecap="butt"/>
<line x1="421.48" y1="158.01" x2="437.56" y2="158.01" stroke="#d3d3d3" stroke-width="0.9" stroke-linecap="butt"/>
<line x1="384.82" y1="161.1" x2="396.8" y2="161.1" stroke="#111" stroke-width="1.35" stroke-linecap="butt"/>
<line x1="407.86" y1="161.1" x2="419.74" y2="161.1" stroke="#d3d3d3" stroke-width="0.9" stroke-linecap="butt"/>
<line x1="421.48" y1="161.1" x2="437.56" y2="161.1" stroke="#d3d3d3" stroke-width="0.9" stroke-linecap="butt"/>
<line x1="384.82" y1="164.18" x2="396.8" y2="164.18" stroke="#111" stroke-width="1.35" stroke-linecap="butt"/>
<line x1="407.86" y1="164.18" x2="419.74" y2="164.18" stroke="#d3d3d3" stroke-width="0.9" stroke-linecap="butt"/>
<line x1="421.48" y1="164.18" x2="437.56" y2="164.18" stroke="#d3d3d3" stroke-width="0.9" stroke-linecap="butt"/>
<line x1="384.82" y1="167.27" x2="396.8" y2="167.27" stroke="#111" stroke-width="1.35" stroke-linecap="butt"/>
<line x1="407.86" y1="167.27" x2="419.74" y2="167.27" stroke="#d3d3d3" stroke-width="0.9" stroke-linecap="butt"/>
<line x1="421.48" y1="167.27" x2="437.56" y2="167.27" stroke="#d3d3d3" stroke-width="0.9" stroke-linecap="butt"/>
<rect x="370.2" y="179.1" width="77.6" height="57.4" fill="#fff" stroke="#282828" stroke-width="1"/>
<rect x="370.2" y="179.1" width="77.6" height="11.48" fill="#1e1e1e"/>
<line x1="378.2" y1="185.35" x2="396.79" y2="185.35" stroke="#e6e6e6" stroke-width="1.3" stroke-linecap="round"/>
<rect x="419.65" y="183.1" width="9.45" height="3.38" rx="1.69" fill="#e4e2df"/>
<rect x="430.66" y="183.1" width="9.35" height="3.38" rx="1.69" fill="#1a80eb"/>
<rect x="378.2" y="189.04" width="22.44" height="10.35" rx="1.1" fill="#fff" stroke="#282828" stroke-width="1"/>
<line x1="380.2" y1="191.64" x2="385.7" y2="191.64" stroke="#d0d0d0" stroke-width="0.7" stroke-linecap="butt"/>
<rect x="403.34" y="189.04" width="22.44" height="10.35" rx="1.1" fill="#fff" stroke="#282828" stroke-width="1"/>
<line x1="405.34" y1="191.64" x2="410.84" y2="191.64" stroke="#d0d0d0" stroke-width="0.7" stroke-linecap="butt"/>
<rect x="428.06" y="189.04" width="22.54" height="10.35" rx="1.1" fill="#fff" stroke="#282828" stroke-width="1"/>
<line x1="430.06" y1="191.64" x2="435.56" y2="191.64" stroke="#d0d0d0" stroke-width="0.7" stroke-linecap="butt"/>
<rect x="378.2" y="201.65" width="22.44" height="10.76" rx="1.1" fill="#fff" stroke="#282828" stroke-width="1"/>
<line x1="380.2" y1="204.25" x2="385.7" y2="204.25" stroke="#d0d0d0" stroke-width="0.7" stroke-linecap="butt"/>
<rect x="403.34" y="201.65" width="22.44" height="10.76" rx="1.1" fill="#fff" stroke="#282828" stroke-width="1"/>
<line x1="405.34" y1="204.25" x2="410.84" y2="204.25" stroke="#d0d0d0" stroke-width="0.7" stroke-linecap="butt"/>
<rect x="428.06" y="201.65" width="22.54" height="10.76" rx="1.1" fill="#fff" stroke="#282828" stroke-width="1"/>
<line x1="430.06" y1="204.25" x2="435.56" y2="204.25" stroke="#d0d0d0" stroke-width="0.7" stroke-linecap="butt"/>
<rect x="378.2" y="214.67" width="22.44" height="10.56" rx="1.1" fill="#fff" stroke="#282828" stroke-width="1"/>
<line x1="380.2" y1="217.27" x2="385.7" y2="217.27" stroke="#d0d0d0" stroke-width="0.7" stroke-linecap="butt"/>
<rect x="403.34" y="214.67" width="22.44" height="10.56" rx="1.1" fill="#fff" stroke="#282828" stroke-width="1"/>
<line x1="405.34" y1="217.27" x2="410.84" y2="217.27" stroke="#d0d0d0" stroke-width="0.7" stroke-linecap="butt"/>
<rect x="428.06" y="214.67" width="22.54" height="10.56" rx="1.1" fill="#fff" stroke="#282828" stroke-width="1"/>
<line x1="430.06" y1="217.27" x2="435.56" y2="217.27" stroke="#d0d0d0" stroke-width="0.7" stroke-linecap="butt"/>
<rect x="378.2" y="227.79" width="22.44" height="10.76" rx="1.1" fill="#fff" stroke="#282828" stroke-width="1"/>
<line x1="380.2" y1="230.39" x2="385.7" y2="230.39" stroke="#d0d0d0" stroke-width="0.7" stroke-linecap="butt"/>
<rect x="403.34" y="227.79" width="22.44" height="10.76" rx="1.1" fill="#fff" stroke="#282828" stroke-width="1"/>
<line x1="405.34" y1="230.39" x2="410.84" y2="230.39" stroke="#d0d0d0" stroke-width="0.7" stroke-linecap="butt"/>
<rect x="428.06" y="227.79" width="22.54" height="10.76" rx="1.1" fill="#fff" stroke="#282828" stroke-width="1"/>
<line x1="430.06" y1="230.39" x2="435.56" y2="230.39" stroke="#d0d0d0" stroke-width="0.7" stroke-linecap="butt"/>
<rect x="371.3" y="247.1" width="76.5" height="57.4" fill="#fff" stroke="#282828" stroke-width="1"/>
<rect x="371.3" y="247.1" width="76.5" height="12.1" fill="#1e1e1e"/>
<line x1="379" y1="253.3" x2="396.9" y2="253.3" stroke="#e6e6e6" stroke-width="1.3" stroke-linecap="round"/>
<rect x="420.5" y="250.6" width="8.5" height="3.5" rx="1.75" fill="#e4e2df"/>
<rect x="431" y="250.6" width="9" height="3.5" rx="1.75" fill="#1a80eb"/>
<rect x="379" y="257" width="43.2" height="27.8" rx="1.1" fill="#fff" stroke="#282828" stroke-width="1"/>
<line x1="381.2" y1="259.1" x2="391.8" y2="259.1" stroke="#111" stroke-width="1.2" stroke-linecap="butt"/>
<line x1="413.3" y1="259.1" x2="420.3" y2="259.1" stroke="#dddddd" stroke-width="0.7" stroke-linecap="butt"/>
<rect x="381" y="261.1" width="39" height="22" fill="#d7d7d7"/>
<line x1="379" y1="287.3" x2="385.46" y2="287.3" stroke="#dadada" stroke-width="0.7" stroke-linecap="butt"/>
<line x1="387.07" y1="287.3" x2="393.53" y2="287.3" stroke="#dadada" stroke-width="0.7" stroke-linecap="butt"/>
<line x1="395.15" y1="287.3" x2="401.61" y2="287.3" stroke="#dadada" stroke-width="0.7" stroke-linecap="butt"/>
<line x1="403.23" y1="287.3" x2="409.69" y2="287.3" stroke="#dadada" stroke-width="0.7" stroke-linecap="butt"/>
<rect x="379" y="289.6" width="43.2" height="13.8" rx="1.1" fill="#fff" stroke="#282828" stroke-width="1"/>
<line x1="381.5" y1="293.74" x2="389.9" y2="293.74" stroke="#d3d3d3" stroke-width="0.8" stroke-linecap="butt"/>
<line x1="391.05" y1="293.74" x2="399.45" y2="293.74" stroke="#d3d3d3" stroke-width="0.8" stroke-linecap="butt"/>
<line x1="400.6" y1="293.74" x2="409" y2="293.74" stroke="#d3d3d3" stroke-width="0.8" stroke-linecap="butt"/>
<line x1="410.15" y1="293.74" x2="418.55" y2="293.74" stroke="#d3d3d3" stroke-width="0.8" stroke-linecap="butt"/>
<line x1="381.5" y1="296.78" x2="389.9" y2="296.78" stroke="#d3d3d3" stroke-width="0.8" stroke-linecap="butt"/>
<line x1="391.05" y1="296.78" x2="399.45" y2="296.78" stroke="#d3d3d3" stroke-width="0.8" stroke-linecap="butt"/>
<line x1="400.6" y1="296.78" x2="409" y2="296.78" stroke="#d3d3d3" stroke-width="0.8" stroke-linecap="butt"/>
<line x1="410.15" y1="296.78" x2="418.55" y2="296.78" stroke="#d3d3d3" stroke-width="0.8" stroke-linecap="butt"/>
<line x1="381.5" y1="299.81" x2="389.9" y2="299.81" stroke="#d3d3d3" stroke-width="0.8" stroke-linecap="butt"/>
<line x1="391.05" y1="299.81" x2="399.45" y2="299.81" stroke="#d3d3d3" stroke-width="0.8" stroke-linecap="butt"/>
<line x1="400.6" y1="299.81" x2="409" y2="299.81" stroke="#d3d3d3" stroke-width="0.8" stroke-linecap="butt"/>
<line x1="410.15" y1="299.81" x2="418.55" y2="299.81" stroke="#d3d3d3" stroke-width="0.8" stroke-linecap="butt"/>
<rect x="424.6" y="257" width="15.1" height="46.5" rx="1.1" fill="#fff" stroke="#282828" stroke-width="1"/>
<line x1="426" y1="259.1" x2="431" y2="259.1" stroke="#111" stroke-width="1.1" stroke-linecap="butt"/>
<line x1="433.8" y1="259.1" x2="438.3" y2="259.1" stroke="#dddddd" stroke-width="0.7" stroke-linecap="butt"/>
<line x1="426.3" y1="262.3" x2="429.8" y2="262.3" stroke="#d3d3d3" stroke-width="0.7" stroke-linecap="butt"/>
<line x1="432.3" y1="262.3" x2="438.3" y2="262.3" stroke="#d3d3d3" stroke-width="0.7" stroke-linecap="butt"/>
<line x1="426.3" y1="265.4" x2="429.8" y2="265.4" stroke="#d3d3d3" stroke-width="0.7" stroke-linecap="butt"/>
<line x1="432.3" y1="265.4" x2="438.3" y2="265.4" stroke="#d3d3d3" stroke-width="0.7" stroke-linecap="butt"/>
<line x1="426.3" y1="268.5" x2="429.8" y2="268.5" stroke="#d3d3d3" stroke-width="0.7" stroke-linecap="butt"/>
<line x1="432.3" y1="268.5" x2="438.3" y2="268.5" stroke="#d3d3d3" stroke-width="0.7" stroke-linecap="butt"/>
<line x1="426.3" y1="271.6" x2="429.8" y2="271.6" stroke="#d3d3d3" stroke-width="0.7" stroke-linecap="butt"/>
<line x1="432.3" y1="271.6" x2="438.3" y2="271.6" stroke="#d3d3d3" stroke-width="0.7" stroke-linecap="butt"/>
<line x1="426.3" y1="274.7" x2="429.8" y2="274.7" stroke="#d3d3d3" stroke-width="0.7" stroke-linecap="butt"/>
<line x1="432.3" y1="274.7" x2="438.3" y2="274.7" stroke="#d3d3d3" stroke-width="0.7" stroke-linecap="butt"/>
<line x1="426.3" y1="277.8" x2="429.8" y2="277.8" stroke="#d3d3d3" stroke-width="0.7" stroke-linecap="butt"/>
<line x1="432.3" y1="277.8" x2="438.3" y2="277.8" stroke="#d3d3d3" stroke-width="0.7" stroke-linecap="butt"/>
<line x1="426.3" y1="280.9" x2="429.8" y2="280.9" stroke="#d3d3d3" stroke-width="0.7" stroke-linecap="butt"/>
<line x1="432.3" y1="280.9" x2="438.3" y2="280.9" stroke="#d3d3d3" stroke-width="0.7" stroke-linecap="butt"/>
<rect x="457.2" y="35.8" width="125.8" height="46.7" rx="2" fill="#84d4aa"/>
<text x="520.1" y="49.7" font-family="Liberation Sans, sans-serif" font-size="5.55" fill="#1d4a31" stroke="#1d4a31" stroke-width="0.16" text-anchor="middle">Creating items using the Full Page form will</text>
<text x="520.1" y="57.6" font-family="Liberation Sans, sans-serif" font-size="5.55" fill="#1d4a31" stroke="#1d4a31" stroke-width="0.16" text-anchor="middle">take the users out of context.</text>
<text x="520.1" y="65.5" font-family="Liberation Sans, sans-serif" font-size="5.55" fill="#1d4a31" stroke="#1d4a31" stroke-width="0.16" text-anchor="middle">If successfully created, the user is brought to</text>
<text x="520.1" y="73.4" font-family="Liberation Sans, sans-serif" font-size="5.55" fill="#1d4a31" stroke="#1d4a31" stroke-width="0.16" text-anchor="middle">the Task Details page for the new task.</text>
<rect x="457.2" y="184.1" width="125.8" height="47" rx="2" fill="#84d4aa"/>
<text x="520.1" y="198.3" font-family="Liberation Sans, sans-serif" font-size="5.55" fill="#1d4a31" stroke="#1d4a31" stroke-width="0.16" text-anchor="middle">Creating items in the side panel keeps the user</text>
<text x="520.1" y="205.9" font-family="Liberation Sans, sans-serif" font-size="5.55" fill="#1d4a31" stroke="#1d4a31" stroke-width="0.16" text-anchor="middle">in context of their current view.</text>
<text x="520.1" y="214.1" font-family="Liberation Sans, sans-serif" font-size="5.55" fill="#1d4a31" stroke="#1d4a31" stroke-width="0.16" text-anchor="middle">If successfully created, the user is shown a</text>
<text x="520.1" y="221.8" font-family="Liberation Sans, sans-serif" font-size="5.55" fill="#1d4a31" stroke="#1d4a31" stroke-width="0.16" text-anchor="middle">notification informing them of such.</text>
<rect x="612.5" y="32.2" width="75.3" height="56.1" fill="#fff" stroke="#282828" stroke-width="1"/>
<rect x="612.5" y="32.2" width="75.3" height="11.56" fill="#1e1e1e"/>
<line x1="620.26" y1="38.28" x2="638.31" y2="38.28" stroke="#e6e6e6" stroke-width="1.3" stroke-linecap="round"/>
<rect x="660.48" y="36.09" width="9.17" height="3.29" rx="1.64" fill="#e4e2df"/>
<rect x="671.17" y="36.09" width="9.07" height="3.29" rx="1.64" fill="#1a80eb"/>
<rect x="620.26" y="41.77" width="44.66" height="21.62" rx="1.1" fill="#fff" stroke="#282828" stroke-width="1"/>
<rect x="666.93" y="41.77" width="13.31" height="21.62" rx="1.1" fill="#fff" stroke="#282828" stroke-width="1"/>
<line x1="622.38" y1="44.95" x2="640.22" y2="44.95" stroke="#d3d3d3" stroke-width="0.9" stroke-linecap="butt"/>
<rect x="620.26" y="65.38" width="44.66" height="22.32" rx="1.1" fill="#fff" stroke="#282828" stroke-width="1"/>
<rect x="666.93" y="65.38" width="13.31" height="22.32" rx="1.1" fill="#fff" stroke="#282828" stroke-width="1"/>
<line x1="622.38" y1="68.57" x2="640.22" y2="68.57" stroke="#d3d3d3" stroke-width="0.9" stroke-linecap="butt"/>
<rect x="612.5" y="100.8" width="75.3" height="56.2" fill="#fff" stroke="#282828" stroke-width="1"/>
<rect x="612.5" y="100.8" width="75.3" height="11.04" fill="#1e1e1e"/>
<line x1="620.26" y1="106.92" x2="638.31" y2="106.92" stroke="#e6e6e6" stroke-width="1.3" stroke-linecap="round"/>
<rect x="660.48" y="104.71" width="9.17" height="3.31" rx="1.66" fill="#e4e2df"/>
<rect x="671.17" y="104.71" width="9.07" height="3.31" rx="1.66" fill="#1a80eb"/>
<rect x="620.26" y="110.13" width="59.17" height="12.64" rx="1.1" fill="#fff" stroke="#282828" stroke-width="1"/>
<line x1="623.26" y1="113.55" x2="634.96" y2="113.55" stroke="#d3d3d3" stroke-width="0.8" stroke-linecap="butt"/>
<line x1="636.55" y1="113.55" x2="648.25" y2="113.55" stroke="#d3d3d3" stroke-width="0.8" stroke-linecap="butt"/>
<line x1="649.85" y1="113.55" x2="661.55" y2="113.55" stroke="#d3d3d3" stroke-width="0.8" stroke-linecap="butt"/>
<line x1="663.14" y1="113.55" x2="674.84" y2="113.55" stroke="#d3d3d3" stroke-width="0.8" stroke-linecap="butt"/>
<line x1="623.26" y1="116.46" x2="634.96" y2="116.46" stroke="#d3d3d3" stroke-width="0.8" stroke-linecap="butt"/>
<line x1="636.55" y1="116.46" x2="648.25" y2="116.46" stroke="#d3d3d3" stroke-width="0.8" stroke-linecap="butt"/>
<line x1="649.85" y1="116.46" x2="661.55" y2="116.46" stroke="#d3d3d3" stroke-width="0.8" stroke-linecap="butt"/>
<line x1="663.14" y1="116.46" x2="674.84" y2="116.46" stroke="#d3d3d3" stroke-width="0.8" stroke-linecap="butt"/>
<line x1="623.26" y1="119.36" x2="634.96" y2="119.36" stroke="#d3d3d3" stroke-width="0.8" stroke-linecap="butt"/>
<line x1="636.55" y1="119.36" x2="648.25" y2="119.36" stroke="#d3d3d3" stroke-width="0.8" stroke-linecap="butt"/>
<line x1="649.85" y1="119.36" x2="661.55" y2="119.36" stroke="#d3d3d3" stroke-width="0.8" stroke-linecap="butt"/>
<line x1="663.14" y1="119.36" x2="674.84" y2="119.36" stroke="#d3d3d3" stroke-width="0.8" stroke-linecap="butt"/>
<rect x="620.26" y="128.4" width="59.17" height="13.65" rx="1.1" fill="#fff" stroke="#282828" stroke-width="1"/>
<line x1="623.26" y1="132.08" x2="634.96" y2="132.08" stroke="#d3d3d3" stroke-width="0.8" stroke-linecap="butt"/>
<line x1="636.55" y1="132.08" x2="648.25" y2="132.08" stroke="#d3d3d3" stroke-width="0.8" stroke-linecap="butt"/>
<line x1="649.85" y1="132.08" x2="661.55" y2="132.08" stroke="#d3d3d3" stroke-width="0.8" stroke-linecap="butt"/>
<line x1="663.14" y1="132.08" x2="674.84" y2="132.08" stroke="#d3d3d3" stroke-width="0.8" stroke-linecap="butt"/>
<line x1="623.26" y1="135.22" x2="634.96" y2="135.22" stroke="#d3d3d3" stroke-width="0.8" stroke-linecap="butt"/>
<line x1="636.55" y1="135.22" x2="648.25" y2="135.22" stroke="#d3d3d3" stroke-width="0.8" stroke-linecap="butt"/>
<line x1="649.85" y1="135.22" x2="661.55" y2="135.22" stroke="#d3d3d3" stroke-width="0.8" stroke-linecap="butt"/>
<line x1="663.14" y1="135.22" x2="674.84" y2="135.22" stroke="#d3d3d3" stroke-width="0.8" stroke-linecap="butt"/>
<line x1="623.26" y1="138.36" x2="634.96" y2="138.36" stroke="#d3d3d3" stroke-width="0.8" stroke-linecap="butt"/>
<line x1="636.55" y1="138.36" x2="648.25" y2="138.36" stroke="#d3d3d3" stroke-width="0.8" stroke-linecap="butt"/>
<line x1="649.85" y1="138.36" x2="661.55" y2="138.36" stroke="#d3d3d3" stroke-width="0.8" stroke-linecap="butt"/>
<line x1="663.14" y1="138.36" x2="674.84" y2="138.36" stroke="#d3d3d3" stroke-width="0.8" stroke-linecap="butt"/>
<rect x="620.26" y="145.46" width="59.17" height="12.85" rx="1.1" fill="#fff" stroke="#282828" stroke-width="1"/>
<line x1="623.26" y1="148.93" x2="634.96" y2="148.93" stroke="#d3d3d3" stroke-width="0.8" stroke-linecap="butt"/>
<line x1="636.55" y1="148.93" x2="648.25" y2="148.93" stroke="#d3d3d3" stroke-width="0.8" stroke-linecap="butt"/>
<line x1="649.85" y1="148.93" x2="661.55" y2="148.93" stroke="#d3d3d3" stroke-width="0.8" stroke-linecap="butt"/>
<line x1="663.14" y1="148.93" x2="674.84" y2="148.93" stroke="#d3d3d3" stroke-width="0.8" stroke-linecap="butt"/>
<line x1="623.26" y1="151.88" x2="634.96" y2="151.88" stroke="#d3d3d3" stroke-width="0.8" stroke-linecap="butt"/>
<line x1="636.55" y1="151.88" x2="648.25" y2="151.88" stroke="#d3d3d3" stroke-width="0.8" stroke-linecap="butt"/>
<line x1="649.85" y1="151.88" x2="661.55" y2="151.88" stroke="#d3d3d3" stroke-width="0.8" stroke-linecap="butt"/>
<line x1="663.14" y1="151.88" x2="674.84" y2="151.88" stroke="#d3d3d3" stroke-width="0.8" stroke-linecap="butt"/>
<line x1="623.26" y1="154.84" x2="634.96" y2="154.84" stroke="#d3d3d3" stroke-width="0.8" stroke-linecap="butt"/>
<line x1="636.55" y1="154.84" x2="648.25" y2="154.84" stroke="#d3d3d3" stroke-width="0.8" stroke-linecap="butt"/>
<line x1="649.85" y1="154.84" x2="661.55" y2="154.84" stroke="#d3d3d3" stroke-width="0.8" stroke-linecap="butt"/>
<line x1="663.14" y1="154.84" x2="674.84" y2="154.84" stroke="#d3d3d3" stroke-width="0.8" stroke-linecap="butt"/>
<line x1="620.26" y1="126.09" x2="625.8" y2="126.09" stroke="#dadada" stroke-width="0.7" stroke-linecap="butt"/>
<line x1="627.65" y1="126.09" x2="633.18" y2="126.09" stroke="#dadada" stroke-width="0.7" stroke-linecap="butt"/>
<line x1="635.03" y1="126.09" x2="640.57" y2="126.09" stroke="#dadada" stroke-width="0.7" stroke-linecap="butt"/>
<line x1="642.41" y1="126.09" x2="647.95" y2="126.09" stroke="#dadada" stroke-width="0.7" stroke-linecap="butt"/>
<rect x="612.6" y="169.6" width="75.2" height="55.8" fill="#fff" stroke="#282828" stroke-width="1"/>
<rect x="612.6" y="169.6" width="75.2" height="14.6" fill="#1e1e1e"/>
<line x1="620.35" y1="175.6" x2="638.37" y2="175.6" stroke="#e6e6e6" stroke-width="1.3" stroke-linecap="round"/>
<rect x="660.52" y="173.6" width="9.16" height="3.3" rx="1.65" fill="#e4e2df"/>
<rect x="671.19" y="173.6" width="9.06" height="3.3" rx="1.65" fill="#1a80eb"/>
<line x1="621.56" y1="181.7" x2="622.26" y2="181.7" stroke="#cfcfcf" stroke-width="0.9" stroke-linecap="butt"/>
<line x1="625.89" y1="181.7" x2="637.77" y2="181.7" stroke="#d8d8d8" stroke-width="1" stroke-linecap="butt"/>
<line x1="648.54" y1="181.7" x2="660.42" y2="181.7" stroke="#d8d8d8" stroke-width="1" stroke-linecap="butt"/>
<line x1="661.93" y1="181.7" x2="678.74" y2="181.7" stroke="#d8d8d8" stroke-width="1" stroke-linecap="butt"/>
<rect x="620.35" y="184.5" width="59.09" height="43.1" rx="1.1" fill="#fff" stroke="#282828" stroke-width="1"/>
<line x1="625.89" y1="188.3" x2="637.67" y2="188.3" stroke="#111" stroke-width="1.35" stroke-linecap="butt"/>
<line x1="648.54" y1="188.3" x2="660.22" y2="188.3" stroke="#d3d3d3" stroke-width="0.9" stroke-linecap="butt"/>
<line x1="661.93" y1="188.3" x2="677.73" y2="188.3" stroke="#d3d3d3" stroke-width="0.9" stroke-linecap="butt"/>
<line x1="625.89" y1="191.3" x2="637.67" y2="191.3" stroke="#111" stroke-width="1.35" stroke-linecap="butt"/>
<line x1="648.54" y1="191.3" x2="660.22" y2="191.3" stroke="#d3d3d3" stroke-width="0.9" stroke-linecap="butt"/>
<line x1="661.93" y1="191.3" x2="677.73" y2="191.3" stroke="#d3d3d3" stroke-width="0.9" stroke-linecap="butt"/>
<line x1="625.89" y1="194.3" x2="637.67" y2="194.3" stroke="#111" stroke-width="1.35" stroke-linecap="butt"/>
<line x1="648.54" y1="194.3" x2="660.22" y2="194.3" stroke="#d3d3d3" stroke-width="0.9" stroke-linecap="butt"/>
<line x1="661.93" y1="194.3" x2="677.73" y2="194.3" stroke="#d3d3d3" stroke-width="0.9" stroke-linecap="butt"/>
<line x1="625.89" y1="197.3" x2="637.67" y2="197.3" stroke="#111" stroke-width="1.35" stroke-linecap="butt"/>
<line x1="648.54" y1="197.3" x2="660.22" y2="197.3" stroke="#d3d3d3" stroke-width="0.9" stroke-linecap="butt"/>
<line x1="661.93" y1="197.3" x2="677.73" y2="197.3" stroke="#d3d3d3" stroke-width="0.9" stroke-linecap="butt"/>
<line x1="625.89" y1="200.3" x2="637.67" y2="200.3" stroke="#111" stroke-width="1.35" stroke-linecap="butt"/>
<line x1="648.54" y1="200.3" x2="660.22" y2="200.3" stroke="#d3d3d3" stroke-width="0.9" stroke-linecap="butt"/>
<line x1="661.93" y1="200.3" x2="677.73" y2="200.3" stroke="#d3d3d3" stroke-width="0.9" stroke-linecap="butt"/>
<line x1="625.89" y1="203.3" x2="637.67" y2="203.3" stroke="#111" stroke-width="1.35" stroke-linecap="butt"/>
<line x1="648.54" y1="203.3" x2="660.22" y2="203.3" stroke="#d3d3d3" stroke-width="0.9" stroke-linecap="butt"/>
<line x1="661.93" y1="203.3" x2="677.73" y2="203.3" stroke="#d3d3d3" stroke-width="0.9" stroke-linecap="butt"/>
<line x1="625.89" y1="206.3" x2="637.67" y2="206.3" stroke="#111" stroke-width="1.35" stroke-linecap="butt"/>
<line x1="648.54" y1="206.3" x2="660.22" y2="206.3" stroke="#d3d3d3" stroke-width="0.9" stroke-linecap="butt"/>
<line x1="661.93" y1="206.3" x2="677.73" y2="206.3" stroke="#d3d3d3" stroke-width="0.9" stroke-linecap="butt"/>
<line x1="625.89" y1="209.3" x2="637.67" y2="209.3" stroke="#111" stroke-width="1.35" stroke-linecap="butt"/>
<line x1="648.54" y1="209.3" x2="660.22" y2="209.3" stroke="#d3d3d3" stroke-width="0.9" stroke-linecap="butt"/>
<line x1="661.93" y1="209.3" x2="677.73" y2="209.3" stroke="#d3d3d3" stroke-width="0.9" stroke-linecap="butt"/>
<line x1="625.89" y1="212.3" x2="637.67" y2="212.3" stroke="#111" stroke-width="1.35" stroke-linecap="butt"/>
<line x1="648.54" y1="212.3" x2="660.22" y2="212.3" stroke="#d3d3d3" stroke-width="0.9" stroke-linecap="butt"/>
<line x1="661.93" y1="212.3" x2="677.73" y2="212.3" stroke="#d3d3d3" stroke-width="0.9" stroke-linecap="butt"/>
<line x1="625.89" y1="215.3" x2="637.67" y2="215.3" stroke="#111" stroke-width="1.35" stroke-linecap="butt"/>
<line x1="648.54" y1="215.3" x2="660.22" y2="215.3" stroke="#d3d3d3" stroke-width="0.9" stroke-linecap="butt"/>
<line x1="661.93" y1="215.3" x2="677.73" y2="215.3" stroke="#d3d3d3" stroke-width="0.9" stroke-linecap="butt"/>
<line x1="625.89" y1="218.3" x2="637.67" y2="218.3" stroke="#111" stroke-width="1.35" stroke-linecap="butt"/>
<line x1="648.54" y1="218.3" x2="660.22" y2="218.3" stroke="#d3d3d3" stroke-width="0.9" stroke-linecap="butt"/>
<line x1="661.93" y1="218.3" x2="677.73" y2="218.3" stroke="#d3d3d3" stroke-width="0.9" stroke-linecap="butt"/>
<line x1="625.89" y1="221.3" x2="637.67" y2="221.3" stroke="#111" stroke-width="1.35" stroke-linecap="butt"/>
<line x1="648.54" y1="221.3" x2="660.22" y2="221.3" stroke="#d3d3d3" stroke-width="0.9" stroke-linecap="butt"/>
<line x1="661.93" y1="221.3" x2="677.73" y2="221.3" stroke="#d3d3d3" stroke-width="0.9" stroke-linecap="butt"/>
<line x1="625.89" y1="224.3" x2="637.67" y2="224.3" stroke="#111" stroke-width="1.35" stroke-linecap="butt"/>
<line x1="648.54" y1="224.3" x2="660.22" y2="224.3" stroke="#d3d3d3" stroke-width="0.9" stroke-linecap="butt"/>
<line x1="661.93" y1="224.3" x2="677.73" y2="224.3" stroke="#d3d3d3" stroke-width="0.9" stroke-linecap="butt"/>
<rect x="613.8" y="238.2" width="75" height="56" fill="#fff" stroke="#282828" stroke-width="1"/>
<rect x="613.8" y="238.2" width="75" height="11.2" fill="#1e1e1e"/>
<line x1="621.53" y1="244.3" x2="639.5" y2="244.3" stroke="#e6e6e6" stroke-width="1.3" stroke-linecap="round"/>
<rect x="661.59" y="242.1" width="9.14" height="3.3" rx="1.65" fill="#e4e2df"/>
<rect x="672.23" y="242.1" width="9.04" height="3.3" rx="1.65" fill="#1a80eb"/>
<rect x="621.53" y="247.9" width="21.69" height="10.1" rx="1.1" fill="#fff" stroke="#282828" stroke-width="1"/>
<line x1="623.53" y1="250.5" x2="629.03" y2="250.5" stroke="#d0d0d0" stroke-width="0.7" stroke-linecap="butt"/>
<rect x="645.83" y="247.9" width="21.69" height="10.1" rx="1.1" fill="#fff" stroke="#282828" stroke-width="1"/>
<line x1="647.83" y1="250.5" x2="653.33" y2="250.5" stroke="#d0d0d0" stroke-width="0.7" stroke-linecap="butt"/>
<rect x="669.72" y="247.9" width="21.79" height="10.1" rx="1.1" fill="#fff" stroke="#282828" stroke-width="1"/>
<line x1="671.72" y1="250.5" x2="677.22" y2="250.5" stroke="#d0d0d0" stroke-width="0.7" stroke-linecap="butt"/>
<rect x="621.53" y="260.2" width="21.69" height="10.5" rx="1.1" fill="#fff" stroke="#282828" stroke-width="1"/>
<line x1="623.53" y1="262.8" x2="629.03" y2="262.8" stroke="#d0d0d0" stroke-width="0.7" stroke-linecap="butt"/>
<rect x="645.83" y="260.2" width="21.69" height="10.5" rx="1.1" fill="#fff" stroke="#282828" stroke-width="1"/>
<line x1="647.83" y1="262.8" x2="653.33" y2="262.8" stroke="#d0d0d0" stroke-width="0.7" stroke-linecap="butt"/>
<rect x="669.72" y="260.2" width="21.79" height="10.5" rx="1.1" fill="#fff" stroke="#282828" stroke-width="1"/>
<line x1="671.72" y1="262.8" x2="677.22" y2="262.8" stroke="#d0d0d0" stroke-width="0.7" stroke-linecap="butt"/>
<rect x="621.53" y="272.9" width="21.69" height="10.3" rx="1.1" fill="#fff" stroke="#282828" stroke-width="1"/>
<line x1="623.53" y1="275.5" x2="629.03" y2="275.5" stroke="#d0d0d0" stroke-width="0.7" stroke-linecap="butt"/>
<rect x="645.83" y="272.9" width="21.69" height="10.3" rx="1.1" fill="#fff" stroke="#282828" stroke-width="1"/>
<line x1="647.83" y1="275.5" x2="653.33" y2="275.5" stroke="#d0d0d0" stroke-width="0.7" stroke-linecap="butt"/>
<rect x="669.72" y="272.9" width="21.79" height="10.3" rx="1.1" fill="#fff" stroke="#282828" stroke-width="1"/>
<line x1="671.72" y1="275.5" x2="677.22" y2="275.5" stroke="#d0d0d0" stroke-width="0.7" stroke-linecap="butt"/>
<rect x="621.53" y="285.7" width="21.69" height="10.5" rx="1.1" fill="#fff" stroke="#282828" stroke-width="1"/>
<line x1="623.53" y1="288.3" x2="629.03" y2="288.3" stroke="#d0d0d0" stroke-width="0.7" stroke-linecap="butt"/>
<rect x="645.83" y="285.7" width="21.69" height="10.5" rx="1.1" fill="#fff" stroke="#282828" stroke-width="1"/>
<line x1="647.83" y1="288.3" x2="653.33" y2="288.3" stroke="#d0d0d0" stroke-width="0.7" stroke-linecap="butt"/>
<rect x="669.72" y="285.7" width="21.79" height="10.5" rx="1.1" fill="#fff" stroke="#282828" stroke-width="1"/>
<line x1="671.72" y1="288.3" x2="677.22" y2="288.3" stroke="#d0d0d0" stroke-width="0.7" stroke-linecap="butt"/>
<rect x="792.7" y="32.1" width="80.2" height="58.7" rx="2" fill="#fde8a5" stroke="#dcbf73" stroke-width="0.8"/>
<text x="798.6" y="48.1" font-family="Liberation Sans, sans-serif" font-size="5.55" fill="#3b3526" stroke="#3b3526" stroke-width="0.16" text-anchor="start">There are two different</text>
<text x="798.6" y="55.98" font-family="Liberation Sans, sans-serif" font-size="5.55" fill="#3b3526" stroke="#3b3526" stroke-width="0.16" text-anchor="start">types of forms for creating</text>
<text x="798.6" y="63.86" font-family="Liberation Sans, sans-serif" font-size="5.55" fill="#3b3526" stroke="#3b3526" stroke-width="0.16" text-anchor="start">items:</text>
<text x="800.1" y="71.74" font-family="Liberation Sans, sans-serif" font-size="5.55" fill="#3b3526" stroke="#3b3526" stroke-width="0.16" text-anchor="start">1. Full page</text>
<text x="800.1" y="79.62" font-family="Liberation Sans, sans-serif" font-size="5.55" fill="#3b3526" stroke="#3b3526" stroke-width="0.16" text-anchor="start">2. Side panel</text>
<rect x="794.4" y="100.3" width="76.5" height="57.5" fill="#fff" stroke="#282828" stroke-width="1"/>
<rect x="794.4" y="100.3" width="76.5" height="12.08" fill="#1e1e1e"/>
<line x1="802.07" y1="106.29" x2="819.9" y2="106.29" stroke="#e6e6e6" stroke-width="1.3" stroke-linecap="round"/>
<rect x="843.21" y="104.29" width="8.96" height="3.29" rx="1.65" fill="#e4e2df"/>
<rect x="854.17" y="104.29" width="8.96" height="3.29" rx="1.65" fill="#1a80eb"/>
<rect x="801.77" y="109.88" width="61.26" height="45.22" rx="1.1" fill="#fff" stroke="#282828" stroke-width="1"/>
<line x1="803.66" y1="113.28" x2="824.78" y2="113.28" stroke="#111" stroke-width="1.2" stroke-linecap="butt"/>
<line x1="804.36" y1="116.27" x2="832.25" y2="116.27" stroke="#dcdcdc" stroke-width="0.8" stroke-linecap="butt"/>
<rect x="803.66" y="120.27" width="28.59" height="3.09" rx="1.4" fill="#d4d4d4" stroke="#282828" stroke-width="0.8"/>
<rect x="803.66" y="124.76" width="28.59" height="2.6" rx="1.4" fill="#d4d4d4" stroke="#282828" stroke-width="0.8"/>
<rect x="803.66" y="129.75" width="28.59" height="2.6" rx="1.4" fill="#d4d4d4" stroke="#282828" stroke-width="0.8"/>
<rect x="803.66" y="134.24" width="57.47" height="11.78" rx="1" fill="#fff" stroke="#282828" stroke-width="0.9"/>
<rect x="842.21" y="151.21" width="7.97" height="2.4" rx="1.2" fill="#dedede"/>
<rect x="852.67" y="151.21" width="8.47" height="2.4" rx="1.2" fill="#1a80eb"/>
<rect x="794.4" y="180.1" width="77" height="57.5" fill="#fff" stroke="#282828" stroke-width="1"/>
<rect x="794.4" y="180.1" width="45.12" height="11.62" fill="#1e1e1e"/>
<rect x="839.52" y="180.1" width="31.88" height="57.5" fill="#fff" stroke="#1a1a1a" stroke-width="1.2"/>
<line x1="841.72" y1="183.51" x2="852.55" y2="183.51" stroke="#222" stroke-width="1.1" stroke-linecap="butt"/>
<line x1="862.58" y1="183.51" x2="869.39" y2="183.51" stroke="#dddddd" stroke-width="0.8" stroke-linecap="butt"/>
<rect x="841.72" y="187.81" width="27.67" height="23.14" fill="#d7d7d7"/>
<rect x="841.72" y="212.36" width="27.67" height="22.74" fill="#d7d7d7"/>
<line x1="839.52" y1="237.6" x2="871.4" y2="237.6" stroke="#111" stroke-width="1.5" stroke-linecap="butt"/>
<rect x="954.4" y="35.3" width="76.6" height="57.3" fill="#fff" stroke="#282828" stroke-width="1"/>
<rect x="954.4" y="35.3" width="76.6" height="11.26" fill="#1e1e1e"/>
<line x1="962.3" y1="41.54" x2="980.65" y2="41.54" stroke="#e6e6e6" stroke-width="1.3" stroke-linecap="round"/>
<rect x="1003.21" y="39.29" width="9.33" height="3.38" rx="1.69" fill="#e4e2df"/>
<rect x="1014.08" y="39.29" width="9.23" height="3.38" rx="1.69" fill="#1a80eb"/>
<rect x="962.3" y="44.82" width="60.19" height="12.89" rx="1.1" fill="#fff" stroke="#282828" stroke-width="1"/>
<line x1="965.3" y1="48.3" x2="977.22" y2="48.3" stroke="#d3d3d3" stroke-width="0.8" stroke-linecap="butt"/>
<line x1="978.84" y1="48.3" x2="990.77" y2="48.3" stroke="#d3d3d3" stroke-width="0.8" stroke-linecap="butt"/>
<line x1="992.39" y1="48.3" x2="1004.31" y2="48.3" stroke="#d3d3d3" stroke-width="0.8" stroke-linecap="butt"/>
<line x1="1005.94" y1="48.3" x2="1017.86" y2="48.3" stroke="#d3d3d3" stroke-width="0.8" stroke-linecap="butt"/>
<line x1="965.3" y1="51.26" x2="977.22" y2="51.26" stroke="#d3d3d3" stroke-width="0.8" stroke-linecap="butt"/>
<line x1="978.84" y1="51.26" x2="990.77" y2="51.26" stroke="#d3d3d3" stroke-width="0.8" stroke-linecap="butt"/>
<line x1="992.39" y1="51.26" x2="1004.31" y2="51.26" stroke="#d3d3d3" stroke-width="0.8" stroke-linecap="butt"/>
<line x1="1005.94" y1="51.26" x2="1017.86" y2="51.26" stroke="#d3d3d3" stroke-width="0.8" stroke-linecap="butt"/>
<line x1="965.3" y1="54.23" x2="977.22" y2="54.23" stroke="#d3d3d3" stroke-width="0.8" stroke-linecap="butt"/>
<line x1="978.84" y1="54.23" x2="990.77" y2="54.23" stroke="#d3d3d3" stroke-width="0.8" stroke-linecap="butt"/>
<line x1="992.39" y1="54.23" x2="1004.31" y2="54.23" stroke="#d3d3d3" stroke-width="0.8" stroke-linecap="butt"/>
<line x1="1005.94" y1="54.23" x2="1017.86" y2="54.23" stroke="#d3d3d3" stroke-width="0.8" stroke-linecap="butt"/>
<rect x="962.3" y="63.44" width="60.19" height="13.92" rx="1.1" fill="#fff" stroke="#282828" stroke-width="1"/>
<line x1="965.3" y1="67.2" x2="977.22" y2="67.2" stroke="#d3d3d3" stroke-width="0.8" stroke-linecap="butt"/>
<line x1="978.84" y1="67.2" x2="990.77" y2="67.2" stroke="#d3d3d3" stroke-width="0.8" stroke-linecap="butt"/>
<line x1="992.39" y1="67.2" x2="1004.31" y2="67.2" stroke="#d3d3d3" stroke-width="0.8" stroke-linecap="butt"/>
<line x1="1005.94" y1="67.2" x2="1017.86" y2="67.2" stroke="#d3d3d3" stroke-width="0.8" stroke-linecap="butt"/>
<line x1="965.3" y1="70.4" x2="977.22" y2="70.4" stroke="#d3d3d3" stroke-width="0.8" stroke-linecap="butt"/>
<line x1="978.84" y1="70.4" x2="990.77" y2="70.4" stroke="#d3d3d3" stroke-width="0.8" stroke-linecap="butt"/>
<line x1="992.39" y1="70.4" x2="1004.31" y2="70.4" stroke="#d3d3d3" stroke-width="0.8" stroke-linecap="butt"/>
<line x1="1005.94" y1="70.4" x2="1017.86" y2="70.4" stroke="#d3d3d3" stroke-width="0.8" stroke-linecap="butt"/>
<line x1="965.3" y1="73.6" x2="977.22" y2="73.6" stroke="#d3d3d3" stroke-width="0.8" stroke-linecap="butt"/>
<line x1="978.84" y1="73.6" x2="990.77" y2="73.6" stroke="#d3d3d3" stroke-width="0.8" stroke-linecap="butt"/>
<line x1="992.39" y1="73.6" x2="1004.31" y2="73.6" stroke="#d3d3d3" stroke-width="0.8" stroke-linecap="butt"/>
<line x1="1005.94" y1="73.6" x2="1017.86" y2="73.6" stroke="#d3d3d3" stroke-width="0.8" stroke-linecap="butt"/>
<rect x="962.3" y="80.83" width="60.19" height="13.1" rx="1.1" fill="#fff" stroke="#282828" stroke-width="1"/>
<line x1="965.3" y1="84.37" x2="977.22" y2="84.37" stroke="#d3d3d3" stroke-width="0.8" stroke-linecap="butt"/>
<line x1="978.84" y1="84.37" x2="990.77" y2="84.37" stroke="#d3d3d3" stroke-width="0.8" stroke-linecap="butt"/>
<line x1="992.39" y1="84.37" x2="1004.31" y2="84.37" stroke="#d3d3d3" stroke-width="0.8" stroke-linecap="butt"/>
<line x1="1005.94" y1="84.37" x2="1017.86" y2="84.37" stroke="#d3d3d3" stroke-width="0.8" stroke-linecap="butt"/>
<line x1="965.3" y1="87.38" x2="977.22" y2="87.38" stroke="#d3d3d3" stroke-width="0.8" stroke-linecap="butt"/>
<line x1="978.84" y1="87.38" x2="990.77" y2="87.38" stroke="#d3d3d3" stroke-width="0.8" stroke-linecap="butt"/>
<line x1="992.39" y1="87.38" x2="1004.31" y2="87.38" stroke="#d3d3d3" stroke-width="0.8" stroke-linecap="butt"/>
<line x1="1005.94" y1="87.38" x2="1017.86" y2="87.38" stroke="#d3d3d3" stroke-width="0.8" stroke-linecap="butt"/>
<line x1="965.3" y1="90.39" x2="977.22" y2="90.39" stroke="#d3d3d3" stroke-width="0.8" stroke-linecap="butt"/>
<line x1="978.84" y1="90.39" x2="990.77" y2="90.39" stroke="#d3d3d3" stroke-width="0.8" stroke-linecap="butt"/>
<line x1="992.39" y1="90.39" x2="1004.31" y2="90.39" stroke="#d3d3d3" stroke-width="0.8" stroke-linecap="butt"/>
<line x1="1005.94" y1="90.39" x2="1017.86" y2="90.39" stroke="#d3d3d3" stroke-width="0.8" stroke-linecap="butt"/>
<line x1="962.3" y1="61.08" x2="967.93" y2="61.08" stroke="#dadada" stroke-width="0.7" stroke-linecap="butt"/>
<line x1="969.81" y1="61.08" x2="975.44" y2="61.08" stroke="#dadada" stroke-width="0.7" stroke-linecap="butt"/>
<line x1="977.32" y1="61.08" x2="982.95" y2="61.08" stroke="#dadada" stroke-width="0.7" stroke-linecap="butt"/>
<line x1="984.83" y1="61.08" x2="990.46" y2="61.08" stroke="#dadada" stroke-width="0.7" stroke-linecap="butt"/>
<rect x="954.4" y="114.2" width="76.6" height="57.2" fill="#fff" stroke="#282828" stroke-width="1"/>
<rect x="954.4" y="114.2" width="76.6" height="14.97" fill="#1e1e1e"/>
<line x1="962.3" y1="120.35" x2="980.65" y2="120.35" stroke="#e6e6e6" stroke-width="1.3" stroke-linecap="round"/>
<rect x="1003.21" y="118.3" width="9.33" height="3.38" rx="1.69" fill="#e4e2df"/>
<rect x="1014.08" y="118.3" width="9.23" height="3.38" rx="1.69" fill="#1a80eb"/>
<line x1="963.53" y1="126.6" x2="964.24" y2="126.6" stroke="#cfcfcf" stroke-width="0.9" stroke-linecap="butt"/>
<line x1="967.94" y1="126.6" x2="980.04" y2="126.6" stroke="#d8d8d8" stroke-width="1" stroke-linecap="butt"/>
<line x1="991.01" y1="126.6" x2="1003.11" y2="126.6" stroke="#d8d8d8" stroke-width="1" stroke-linecap="butt"/>
<line x1="1004.65" y1="126.6" x2="1021.77" y2="126.6" stroke="#d8d8d8" stroke-width="1" stroke-linecap="butt"/>
<rect x="962.3" y="129.47" width="60.19" height="44.18" rx="1.1" fill="#fff" stroke="#282828" stroke-width="1"/>
<line x1="967.94" y1="133.37" x2="979.93" y2="133.37" stroke="#111" stroke-width="1.35" stroke-linecap="butt"/>
<line x1="991.01" y1="133.37" x2="1002.9" y2="133.37" stroke="#d3d3d3" stroke-width="0.9" stroke-linecap="butt"/>
<line x1="1004.65" y1="133.37" x2="1020.75" y2="133.37" stroke="#d3d3d3" stroke-width="0.9" stroke-linecap="butt"/>
<line x1="967.94" y1="136.44" x2="979.93" y2="136.44" stroke="#111" stroke-width="1.35" stroke-linecap="butt"/>
<line x1="991.01" y1="136.44" x2="1002.9" y2="136.44" stroke="#d3d3d3" stroke-width="0.9" stroke-linecap="butt"/>
<line x1="1004.65" y1="136.44" x2="1020.75" y2="136.44" stroke="#d3d3d3" stroke-width="0.9" stroke-linecap="butt"/>
<line x1="967.94" y1="139.52" x2="979.93" y2="139.52" stroke="#111" stroke-width="1.35" stroke-linecap="butt"/>
<line x1="991.01" y1="139.52" x2="1002.9" y2="139.52" stroke="#d3d3d3" stroke-width="0.9" stroke-linecap="butt"/>
<line x1="1004.65" y1="139.52" x2="1020.75" y2="139.52" stroke="#d3d3d3" stroke-width="0.9" stroke-linecap="butt"/>
<line x1="967.94" y1="142.59" x2="979.93" y2="142.59" stroke="#111" stroke-width="1.35" stroke-linecap="butt"/>
<line x1="991.01" y1="142.59" x2="1002.9" y2="142.59" stroke="#d3d3d3" stroke-width="0.9" stroke-linecap="butt"/>
<line x1="1004.65" y1="142.59" x2="1020.75" y2="142.59" stroke="#d3d3d3" stroke-width="0.9" stroke-linecap="butt"/>
<line x1="967.94" y1="145.67" x2="979.93" y2="145.67" stroke="#111" stroke-width="1.35" stroke-linecap="butt"/>
<line x1="991.01" y1="145.67" x2="1002.9" y2="145.67" stroke="#d3d3d3" stroke-width="0.9" stroke-linecap="butt"/>
<line x1="1004.65" y1="145.67" x2="1020.75" y2="145.67" stroke="#d3d3d3" stroke-width="0.9" stroke-linecap="butt"/>
<line x1="967.94" y1="148.75" x2="979.93" y2="148.75" stroke="#111" stroke-width="1.35" stroke-linecap="butt"/>
<line x1="991.01" y1="148.75" x2="1002.9" y2="148.75" stroke="#d3d3d3" stroke-width="0.9" stroke-linecap="butt"/>
<line x1="1004.65" y1="148.75" x2="1020.75" y2="148.75" stroke="#d3d3d3" stroke-width="0.9" stroke-linecap="butt"/>
<line x1="967.94" y1="151.82" x2="979.93" y2="151.82" stroke="#111" stroke-width="1.35" stroke-linecap="butt"/>
<line x1="991.01" y1="151.82" x2="1002.9" y2="151.82" stroke="#d3d3d3" stroke-width="0.9" stroke-linecap="butt"/>
<line x1="1004.65" y1="151.82" x2="1020.75" y2="151.82" stroke="#d3d3d3" stroke-width="0.9" stroke-linecap="butt"/>
<line x1="967.94" y1="154.9" x2="979.93" y2="154.9" stroke="#111" stroke-width="1.35" stroke-linecap="butt"/>
<line x1="991.01" y1="154.9" x2="1002.9" y2="154.9" stroke="#d3d3d3" stroke-width="0.9" stroke-linecap="butt"/>
<line x1="1004.65" y1="154.9" x2="1020.75" y2="154.9" stroke="#d3d3d3" stroke-width="0.9" stroke-linecap="butt"/>
<line x1="967.94" y1="157.97" x2="979.93" y2="157.97" stroke="#111" stroke-width="1.35" stroke-linecap="butt"/>
<line x1="991.01" y1="157.97" x2="1002.9" y2="157.97" stroke="#d3d3d3" stroke-width="0.9" stroke-linecap="butt"/>
<line x1="1004.65" y1="157.97" x2="1020.75" y2="157.97" stroke="#d3d3d3" stroke-width="0.9" stroke-linecap="butt"/>
<line x1="967.94" y1="161.05" x2="979.93" y2="161.05" stroke="#111" stroke-width="1.35" stroke-linecap="butt"/>
<line x1="991.01" y1="161.05" x2="1002.9" y2="161.05" stroke="#d3d3d3" stroke-width="0.9" stroke-linecap="butt"/>
<line x1="1004.65" y1="161.05" x2="1020.75" y2="161.05" stroke="#d3d3d3" stroke-width="0.9" stroke-linecap="butt"/>
<line x1="967.94" y1="164.12" x2="979.93" y2="164.12" stroke="#111" stroke-width="1.35" stroke-linecap="butt"/>
<line x1="991.01" y1="164.12" x2="1002.9" y2="164.12" stroke="#d3d3d3" stroke-width="0.9" stroke-linecap="butt"/>
<line x1="1004.65" y1="164.12" x2="1020.75" y2="164.12" stroke="#d3d3d3" stroke-width="0.9" stroke-linecap="butt"/>
<line x1="967.94" y1="167.2" x2="979.93" y2="167.2" stroke="#111" stroke-width="1.35" stroke-linecap="butt"/>
<line x1="991.01" y1="167.2" x2="1002.9" y2="167.2" stroke="#d3d3d3" stroke-width="0.9" stroke-linecap="butt"/>
<line x1="1004.65" y1="167.2" x2="1020.75" y2="167.2" stroke="#d3d3d3" stroke-width="0.9" stroke-linecap="butt"/>
<line x1="967.94" y1="170.27" x2="979.93" y2="170.27" stroke="#111" stroke-width="1.35" stroke-linecap="butt"/>
<line x1="991.01" y1="170.27" x2="1002.9" y2="170.27" stroke="#d3d3d3" stroke-width="0.9" stroke-linecap="butt"/>
<line x1="1004.65" y1="170.27" x2="1020.75" y2="170.27" stroke="#d3d3d3" stroke-width="0.9" stroke-linecap="butt"/>
<rect x="954.4" y="180.5" width="76.1" height="56.7" fill="#fff" stroke="#282828" stroke-width="1"/>
<rect x="954.4" y="180.5" width="76.1" height="11.34" fill="#1e1e1e"/>
<line x1="962.24" y1="186.68" x2="980.48" y2="186.68" stroke="#e6e6e6" stroke-width="1.3" stroke-linecap="round"/>
<rect x="1002.89" y="184.45" width="9.27" height="3.34" rx="1.67" fill="#e4e2df"/>
<rect x="1013.69" y="184.45" width="9.17" height="3.34" rx="1.67" fill="#1a80eb"/>
<rect x="962.24" y="190.32" width="22" height="10.23" rx="1.1" fill="#fff" stroke="#282828" stroke-width="1"/>
<line x1="964.24" y1="192.92" x2="969.74" y2="192.92" stroke="#d0d0d0" stroke-width="0.7" stroke-linecap="butt"/>
<rect x="986.9" y="190.32" width="22" height="10.23" rx="1.1" fill="#fff" stroke="#282828" stroke-width="1"/>
<line x1="988.9" y1="192.92" x2="994.4" y2="192.92" stroke="#d0d0d0" stroke-width="0.7" stroke-linecap="butt"/>
<rect x="1011.14" y="190.32" width="22.11" height="10.23" rx="1.1" fill="#fff" stroke="#282828" stroke-width="1"/>
<line x1="1013.14" y1="192.92" x2="1018.64" y2="192.92" stroke="#d0d0d0" stroke-width="0.7" stroke-linecap="butt"/>
<rect x="962.24" y="202.78" width="22" height="10.63" rx="1.1" fill="#fff" stroke="#282828" stroke-width="1"/>
<line x1="964.24" y1="205.38" x2="969.74" y2="205.38" stroke="#d0d0d0" stroke-width="0.7" stroke-linecap="butt"/>
<rect x="986.9" y="202.78" width="22" height="10.63" rx="1.1" fill="#fff" stroke="#282828" stroke-width="1"/>
<line x1="988.9" y1="205.38" x2="994.4" y2="205.38" stroke="#d0d0d0" stroke-width="0.7" stroke-linecap="butt"/>
<rect x="1011.14" y="202.78" width="22.11" height="10.63" rx="1.1" fill="#fff" stroke="#282828" stroke-width="1"/>
<line x1="1013.14" y1="205.38" x2="1018.64" y2="205.38" stroke="#d0d0d0" stroke-width="0.7" stroke-linecap="butt"/>
<rect x="962.24" y="215.63" width="22" height="10.43" rx="1.1" fill="#fff" stroke="#282828" stroke-width="1"/>
<line x1="964.24" y1="218.23" x2="969.74" y2="218.23" stroke="#d0d0d0" stroke-width="0.7" stroke-linecap="butt"/>
<rect x="986.9" y="215.63" width="22" height="10.43" rx="1.1" fill="#fff" stroke="#282828" stroke-width="1"/>
<line x1="988.9" y1="218.23" x2="994.4" y2="218.23" stroke="#d0d0d0" stroke-width="0.7" stroke-linecap="butt"/>
<rect x="1011.14" y="215.63" width="22.11" height="10.43" rx="1.1" fill="#fff" stroke="#282828" stroke-width="1"/>
<line x1="1013.14" y1="218.23" x2="1018.64" y2="218.23" stroke="#d0d0d0" stroke-width="0.7" stroke-linecap="butt"/>
<rect x="962.24" y="228.59" width="22" height="10.63" rx="1.1" fill="#fff" stroke="#282828" stroke-width="1"/>
<line x1="964.24" y1="231.19" x2="969.74" y2="231.19" stroke="#d0d0d0" stroke-width="0.7" stroke-linecap="butt"/>
<rect x="986.9" y="228.59" width="22" height="10.63" rx="1.1" fill="#fff" stroke="#282828" stroke-width="1"/>
<line x1="988.9" y1="231.19" x2="994.4" y2="231.19" stroke="#d0d0d0" stroke-width="0.7" stroke-linecap="butt"/>
<rect x="1011.14" y="228.59" width="22.11" height="10.63" rx="1.1" fill="#fff" stroke="#282828" stroke-width="1"/>
<line x1="1013.14" y1="231.19" x2="1018.64" y2="231.19" stroke="#d0d0d0" stroke-width="0.7" stroke-linecap="butt"/>
<rect x="955" y="247.2" width="75.5" height="56.4" fill="#fff" stroke="#282828" stroke-width="1"/>
<rect x="955" y="247.2" width="75.5" height="11.89" fill="#1e1e1e"/>
<line x1="962.6" y1="253.29" x2="980.27" y2="253.29" stroke="#e6e6e6" stroke-width="1.3" stroke-linecap="round"/>
<rect x="1003.56" y="250.64" width="8.39" height="3.44" rx="1.72" fill="#e4e2df"/>
<rect x="1013.92" y="250.64" width="8.88" height="3.44" rx="1.72" fill="#1a80eb"/>
<rect x="962.6" y="256.93" width="42.64" height="27.32" rx="1.1" fill="#fff" stroke="#282828" stroke-width="1"/>
<line x1="964.77" y1="258.99" x2="975.23" y2="258.99" stroke="#111" stroke-width="1.2" stroke-linecap="butt"/>
<line x1="996.45" y1="258.99" x2="1003.36" y2="258.99" stroke="#dddddd" stroke-width="0.7" stroke-linecap="butt"/>
<rect x="964.57" y="260.96" width="38.49" height="21.62" fill="#d7d7d7"/>
<line x1="962.6" y1="286.7" x2="968.97" y2="286.7" stroke="#dadada" stroke-width="0.7" stroke-linecap="butt"/>
<line x1="970.57" y1="286.7" x2="976.94" y2="286.7" stroke="#dadada" stroke-width="0.7" stroke-linecap="butt"/>
<line x1="978.54" y1="286.7" x2="984.91" y2="286.7" stroke="#dadada" stroke-width="0.7" stroke-linecap="butt"/>
<line x1="986.51" y1="286.7" x2="992.88" y2="286.7" stroke="#dadada" stroke-width="0.7" stroke-linecap="butt"/>
<rect x="962.6" y="288.96" width="42.64" height="13.56" rx="1.1" fill="#fff" stroke="#282828" stroke-width="1"/>
<line x1="965.1" y1="293.03" x2="973.38" y2="293.03" stroke="#d3d3d3" stroke-width="0.8" stroke-linecap="butt"/>
<line x1="974.51" y1="293.03" x2="982.79" y2="293.03" stroke="#d3d3d3" stroke-width="0.8" stroke-linecap="butt"/>
<line x1="983.92" y1="293.03" x2="992.2" y2="293.03" stroke="#d3d3d3" stroke-width="0.8" stroke-linecap="butt"/>
<line x1="993.33" y1="293.03" x2="1001.61" y2="293.03" stroke="#d3d3d3" stroke-width="0.8" stroke-linecap="butt"/>
<line x1="965.1" y1="296.01" x2="973.38" y2="296.01" stroke="#d3d3d3" stroke-width="0.8" stroke-linecap="butt"/>
<line x1="974.51" y1="296.01" x2="982.79" y2="296.01" stroke="#d3d3d3" stroke-width="0.8" stroke-linecap="butt"/>
<line x1="983.92" y1="296.01" x2="992.2" y2="296.01" stroke="#d3d3d3" stroke-width="0.8" stroke-linecap="butt"/>
<line x1="993.33" y1="296.01" x2="1001.61" y2="296.01" stroke="#d3d3d3" stroke-width="0.8" stroke-linecap="butt"/>
<line x1="965.1" y1="298.99" x2="973.38" y2="298.99" stroke="#d3d3d3" stroke-width="0.8" stroke-linecap="butt"/>
<line x1="974.51" y1="298.99" x2="982.79" y2="298.99" stroke="#d3d3d3" stroke-width="0.8" stroke-linecap="butt"/>
<line x1="983.92" y1="298.99" x2="992.2" y2="298.99" stroke="#d3d3d3" stroke-width="0.8" stroke-linecap="butt"/>
<line x1="993.33" y1="298.99" x2="1001.61" y2="298.99" stroke="#d3d3d3" stroke-width="0.8" stroke-linecap="butt"/>
<rect x="1007.6" y="256.93" width="14.9" height="45.69" rx="1.1" fill="#fff" stroke="#282828" stroke-width="1"/>
<line x1="1008.98" y1="258.99" x2="1013.92" y2="258.99" stroke="#111" stroke-width="1.1" stroke-linecap="butt"/>
<line x1="1016.68" y1="258.99" x2="1021.12" y2="258.99" stroke="#dddddd" stroke-width="0.7" stroke-linecap="butt"/>
<line x1="1009.28" y1="262.14" x2="1012.74" y2="262.14" stroke="#d3d3d3" stroke-width="0.7" stroke-linecap="butt"/>
<line x1="1015.2" y1="262.14" x2="1021.12" y2="262.14" stroke="#d3d3d3" stroke-width="0.7" stroke-linecap="butt"/>
<line x1="1009.28" y1="265.18" x2="1012.74" y2="265.18" stroke="#d3d3d3" stroke-width="0.7" stroke-linecap="butt"/>
<line x1="1015.2" y1="265.18" x2="1021.12" y2="265.18" stroke="#d3d3d3" stroke-width="0.7" stroke-linecap="butt"/>
<line x1="1009.28" y1="268.23" x2="1012.74" y2="268.23" stroke="#d3d3d3" stroke-width="0.7" stroke-linecap="butt"/>
<line x1="1015.2" y1="268.23" x2="1021.12" y2="268.23" stroke="#d3d3d3" stroke-width="0.7" stroke-linecap="butt"/>
<line x1="1009.28" y1="271.27" x2="1012.74" y2="271.27" stroke="#d3d3d3" stroke-width="0.7" stroke-linecap="butt"/>
<line x1="1015.2" y1="271.27" x2="1021.12" y2="271.27" stroke="#d3d3d3" stroke-width="0.7" stroke-linecap="butt"/>
<line x1="1009.28" y1="274.32" x2="1012.74" y2="274.32" stroke="#d3d3d3" stroke-width="0.7" stroke-linecap="butt"/>
<line x1="1015.2" y1="274.32" x2="1021.12" y2="274.32" stroke="#d3d3d3" stroke-width="0.7" stroke-linecap="butt"/>
<line x1="1009.28" y1="277.37" x2="1012.74" y2="277.37" stroke="#d3d3d3" stroke-width="0.7" stroke-linecap="butt"/>
<line x1="1015.2" y1="277.37" x2="1021.12" y2="277.37" stroke="#d3d3d3" stroke-width="0.7" stroke-linecap="butt"/>
<line x1="1009.28" y1="280.41" x2="1012.74" y2="280.41" stroke="#d3d3d3" stroke-width="0.7" stroke-linecap="butt"/>
<line x1="1015.2" y1="280.41" x2="1021.12" y2="280.41" stroke="#d3d3d3" stroke-width="0.7" stroke-linecap="butt"/>
<rect x="1040.4" y="40" width="126.3" height="46.7" rx="2" fill="#f5a08c"/>
<text x="1103.55" y="54" font-family="Liberation Sans, sans-serif" font-size="5.55" fill="#5b2a1f" stroke="#5b2a1f" stroke-width="0.16" text-anchor="middle">Creating items using the Full Page form will</text>
<text x="1103.55" y="62" font-family="Liberation Sans, sans-serif" font-size="5.55" fill="#5b2a1f" stroke="#5b2a1f" stroke-width="0.16" text-anchor="middle">take the users out of content.</text>
<text x="1103.55" y="70" font-family="Liberation Sans, sans-serif" font-size="5.55" fill="#5b2a1f" stroke="#5b2a1f" stroke-width="0.16" text-anchor="middle">If there is an error, the user is returned to the</text>
<text x="1103.55" y="77.7" font-family="Liberation Sans, sans-serif" font-size="5.55" fill="#5b2a1f" stroke="#5b2a1f" stroke-width="0.16" text-anchor="middle">previous page with an Alert to notify them.</text>
<rect x="1040.4" y="186.9" width="126.3" height="47.1" rx="2" fill="#f5a08c"/>
<text x="1103.55" y="200.9" font-family="Liberation Sans, sans-serif" font-size="5.55" fill="#5b2a1f" stroke="#5b2a1f" stroke-width="0.16" text-anchor="middle">Creating items in the side panel keeps the user</text>
<text x="1103.55" y="208.7" font-family="Liberation Sans, sans-serif" font-size="5.55" fill="#5b2a1f" stroke="#5b2a1f" stroke-width="0.16" text-anchor="middle">in context of their current view.</text>
<text x="1103.55" y="216.7" font-family="Liberation Sans, sans-serif" font-size="5.55" fill="#5b2a1f" stroke="#5b2a1f" stroke-width="0.16" text-anchor="middle">If there is an error, the user is shown an Alert</text>
<text x="1103.55" y="224.7" font-family="Liberation Sans, sans-serif" font-size="5.55" fill="#5b2a1f" stroke="#5b2a1f" stroke-width="0.16" text-anchor="middle">to notify them.</text>
<rect x="29" y="337" width="75.2" height="55.9" fill="#fff" stroke="#282828" stroke-width="1"/>
<rect x="29" y="337" width="75.2" height="11.52" fill="#1e1e1e"/>
<line x1="36.75" y1="343.06" x2="54.77" y2="343.06" stroke="#e6e6e6" stroke-width="1.3" stroke-linecap="round"/>
<rect x="76.92" y="340.87" width="9.16" height="3.28" rx="1.64" fill="#e4e2df"/>
<rect x="87.59" y="340.87" width="9.06" height="3.28" rx="1.64" fill="#1a80eb"/>
<rect x="36.75" y="346.53" width="44.6" height="21.55" rx="1.1" fill="#fff" stroke="#282828" stroke-width="1"/>
<rect x="83.36" y="346.53" width="13.29" height="21.55" rx="1.1" fill="#fff" stroke="#282828" stroke-width="1"/>
<line x1="38.87" y1="349.71" x2="56.68" y2="349.71" stroke="#d3d3d3" stroke-width="0.9" stroke-linecap="butt"/>
<rect x="36.75" y="370.06" width="44.6" height="22.24" rx="1.1" fill="#fff" stroke="#282828" stroke-width="1"/>
<rect x="83.36" y="370.06" width="13.29" height="22.24" rx="1.1" fill="#fff" stroke="#282828" stroke-width="1"/>
<line x1="38.87" y1="373.24" x2="56.68" y2="373.24" stroke="#d3d3d3" stroke-width="0.9" stroke-linecap="butt"/>
<rect x="29.1" y="405.7" width="74.8" height="55.9" fill="#fff" stroke="#282828" stroke-width="1"/>
<rect x="29.1" y="405.7" width="74.8" height="10.98" fill="#1e1e1e"/>
<line x1="36.81" y1="411.79" x2="54.73" y2="411.79" stroke="#e6e6e6" stroke-width="1.3" stroke-linecap="round"/>
<rect x="76.76" y="409.59" width="9.11" height="3.29" rx="1.65" fill="#e4e2df"/>
<rect x="87.38" y="409.59" width="9.01" height="3.29" rx="1.65" fill="#1a80eb"/>
<rect x="36.81" y="414.98" width="58.78" height="12.58" rx="1.1" fill="#fff" stroke="#282828" stroke-width="1"/>
<line x1="39.81" y1="418.38" x2="51.42" y2="418.38" stroke="#d3d3d3" stroke-width="0.8" stroke-linecap="butt"/>
<line x1="53" y1="418.38" x2="64.62" y2="418.38" stroke="#d3d3d3" stroke-width="0.8" stroke-linecap="butt"/>
<line x1="66.2" y1="418.38" x2="77.81" y2="418.38" stroke="#d3d3d3" stroke-width="0.8" stroke-linecap="butt"/>
<line x1="79.39" y1="418.38" x2="91.01" y2="418.38" stroke="#d3d3d3" stroke-width="0.8" stroke-linecap="butt"/>
<line x1="39.81" y1="421.27" x2="51.42" y2="421.27" stroke="#d3d3d3" stroke-width="0.8" stroke-linecap="butt"/>
<line x1="53" y1="421.27" x2="64.62" y2="421.27" stroke="#d3d3d3" stroke-width="0.8" stroke-linecap="butt"/>
<line x1="66.2" y1="421.27" x2="77.81" y2="421.27" stroke="#d3d3d3" stroke-width="0.8" stroke-linecap="butt"/>
<line x1="79.39" y1="421.27" x2="91.01" y2="421.27" stroke="#d3d3d3" stroke-width="0.8" stroke-linecap="butt"/>
<line x1="39.81" y1="424.16" x2="51.42" y2="424.16" stroke="#d3d3d3" stroke-width="0.8" stroke-linecap="butt"/>
<line x1="53" y1="424.16" x2="64.62" y2="424.16" stroke="#d3d3d3" stroke-width="0.8" stroke-linecap="butt"/>
<line x1="66.2" y1="424.16" x2="77.81" y2="424.16" stroke="#d3d3d3" stroke-width="0.8" stroke-linecap="butt"/>
<line x1="79.39" y1="424.16" x2="91.01" y2="424.16" stroke="#d3d3d3" stroke-width="0.8" stroke-linecap="butt"/>
<rect x="36.81" y="433.15" width="58.78" height="13.58" rx="1.1" fill="#fff" stroke="#282828" stroke-width="1"/>
<line x1="39.81" y1="436.82" x2="51.42" y2="436.82" stroke="#d3d3d3" stroke-width="0.8" stroke-linecap="butt"/>
<line x1="53" y1="436.82" x2="64.62" y2="436.82" stroke="#d3d3d3" stroke-width="0.8" stroke-linecap="butt"/>
<line x1="66.2" y1="436.82" x2="77.81" y2="436.82" stroke="#d3d3d3" stroke-width="0.8" stroke-linecap="butt"/>
<line x1="79.39" y1="436.82" x2="91.01" y2="436.82" stroke="#d3d3d3" stroke-width="0.8" stroke-linecap="butt"/>
<line x1="39.81" y1="439.94" x2="51.42" y2="439.94" stroke="#d3d3d3" stroke-width="0.8" stroke-linecap="butt"/>
<line x1="53" y1="439.94" x2="64.62" y2="439.94" stroke="#d3d3d3" stroke-width="0.8" stroke-linecap="butt"/>
<line x1="66.2" y1="439.94" x2="77.81" y2="439.94" stroke="#d3d3d3" stroke-width="0.8" stroke-linecap="butt"/>
<line x1="79.39" y1="439.94" x2="91.01" y2="439.94" stroke="#d3d3d3" stroke-width="0.8" stroke-linecap="butt"/>
<line x1="39.81" y1="443.06" x2="51.42" y2="443.06" stroke="#d3d3d3" stroke-width="0.8" stroke-linecap="butt"/>
<line x1="53" y1="443.06" x2="64.62" y2="443.06" stroke="#d3d3d3" stroke-width="0.8" stroke-linecap="butt"/>
<line x1="66.2" y1="443.06" x2="77.81" y2="443.06" stroke="#d3d3d3" stroke-width="0.8" stroke-linecap="butt"/>
<line x1="79.39" y1="443.06" x2="91.01" y2="443.06" stroke="#d3d3d3" stroke-width="0.8" stroke-linecap="butt"/>
<rect x="36.81" y="450.12" width="58.78" height="12.78" rx="1.1" fill="#fff" stroke="#282828" stroke-width="1"/>
<line x1="39.81" y1="453.57" x2="51.42" y2="453.57" stroke="#d3d3d3" stroke-width="0.8" stroke-linecap="butt"/>
<line x1="53" y1="453.57" x2="64.62" y2="453.57" stroke="#d3d3d3" stroke-width="0.8" stroke-linecap="butt"/>
<line x1="66.2" y1="453.57" x2="77.81" y2="453.57" stroke="#d3d3d3" stroke-width="0.8" stroke-linecap="butt"/>
<line x1="79.39" y1="453.57" x2="91.01" y2="453.57" stroke="#d3d3d3" stroke-width="0.8" stroke-linecap="butt"/>
<line x1="39.81" y1="456.51" x2="51.42" y2="456.51" stroke="#d3d3d3" stroke-width="0.8" stroke-linecap="butt"/>
<line x1="53" y1="456.51" x2="64.62" y2="456.51" stroke="#d3d3d3" stroke-width="0.8" stroke-linecap="butt"/>
<line x1="66.2" y1="456.51" x2="77.81" y2="456.51" stroke="#d3d3d3" stroke-width="0.8" stroke-linecap="butt"/>
<line x1="79.39" y1="456.51" x2="91.01" y2="456.51" stroke="#d3d3d3" stroke-width="0.8" stroke-linecap="butt"/>
<line x1="39.81" y1="459.45" x2="51.42" y2="459.45" stroke="#d3d3d3" stroke-width="0.8" stroke-linecap="butt"/>
<line x1="53" y1="459.45" x2="64.62" y2="459.45" stroke="#d3d3d3" stroke-width="0.8" stroke-linecap="butt"/>
<line x1="66.2" y1="459.45" x2="77.81" y2="459.45" stroke="#d3d3d3" stroke-width="0.8" stroke-linecap="butt"/>
<line x1="79.39" y1="459.45" x2="91.01" y2="459.45" stroke="#d3d3d3" stroke-width="0.8" stroke-linecap="butt"/>
<line x1="36.81" y1="430.86" x2="42.31" y2="430.86" stroke="#dadada" stroke-width="0.7" stroke-linecap="butt"/>
<line x1="44.15" y1="430.86" x2="49.65" y2="430.86" stroke="#dadada" stroke-width="0.7" stroke-linecap="butt"/>
<line x1="51.48" y1="430.86" x2="56.98" y2="430.86" stroke="#dadada" stroke-width="0.7" stroke-linecap="butt"/>
<line x1="58.81" y1="430.86" x2="64.32" y2="430.86" stroke="#dadada" stroke-width="0.7" stroke-linecap="butt"/>
<rect x="30.2" y="473.9" width="75.2" height="56.4" fill="#fff" stroke="#282828" stroke-width="1"/>
<rect x="30.2" y="473.9" width="75.2" height="14.76" fill="#1e1e1e"/>
<line x1="37.95" y1="479.96" x2="55.97" y2="479.96" stroke="#e6e6e6" stroke-width="1.3" stroke-linecap="round"/>
<rect x="78.12" y="477.94" width="9.16" height="3.34" rx="1.67" fill="#e4e2df"/>
<rect x="88.79" y="477.94" width="9.06" height="3.34" rx="1.67" fill="#1a80eb"/>
<line x1="39.16" y1="486.13" x2="39.86" y2="486.13" stroke="#cfcfcf" stroke-width="0.9" stroke-linecap="butt"/>
<line x1="43.49" y1="486.13" x2="55.37" y2="486.13" stroke="#d8d8d8" stroke-width="1" stroke-linecap="butt"/>
<line x1="66.14" y1="486.13" x2="78.02" y2="486.13" stroke="#d8d8d8" stroke-width="1" stroke-linecap="butt"/>
<line x1="79.53" y1="486.13" x2="96.34" y2="486.13" stroke="#d8d8d8" stroke-width="1" stroke-linecap="butt"/>
<rect x="37.95" y="488.96" width="59.09" height="43.56" rx="1.1" fill="#fff" stroke="#282828" stroke-width="1"/>
<line x1="43.49" y1="492.8" x2="55.27" y2="492.8" stroke="#111" stroke-width="1.35" stroke-linecap="butt"/>
<line x1="66.14" y1="492.8" x2="77.82" y2="492.8" stroke="#d3d3d3" stroke-width="0.9" stroke-linecap="butt"/>
<line x1="79.53" y1="492.8" x2="95.33" y2="492.8" stroke="#d3d3d3" stroke-width="0.9" stroke-linecap="butt"/>
<line x1="43.49" y1="495.83" x2="55.27" y2="495.83" stroke="#111" stroke-width="1.35" stroke-linecap="butt"/>
<line x1="66.14" y1="495.83" x2="77.82" y2="495.83" stroke="#d3d3d3" stroke-width="0.9" stroke-linecap="butt"/>
<line x1="79.53" y1="495.83" x2="95.33" y2="495.83" stroke="#d3d3d3" stroke-width="0.9" stroke-linecap="butt"/>
<line x1="43.49" y1="498.87" x2="55.27" y2="498.87" stroke="#111" stroke-width="1.35" stroke-linecap="butt"/>
<line x1="66.14" y1="498.87" x2="77.82" y2="498.87" stroke="#d3d3d3" stroke-width="0.9" stroke-linecap="butt"/>
<line x1="79.53" y1="498.87" x2="95.33" y2="498.87" stroke="#d3d3d3" stroke-width="0.9" stroke-linecap="butt"/>
<line x1="43.49" y1="501.9" x2="55.27" y2="501.9" stroke="#111" stroke-width="1.35" stroke-linecap="butt"/>
<line x1="66.14" y1="501.9" x2="77.82" y2="501.9" stroke="#d3d3d3" stroke-width="0.9" stroke-linecap="butt"/>
<line x1="79.53" y1="501.9" x2="95.33" y2="501.9" stroke="#d3d3d3" stroke-width="0.9" stroke-linecap="butt"/>
<line x1="43.49" y1="504.93" x2="55.27" y2="504.93" stroke="#111" stroke-width="1.35" stroke-linecap="butt"/>
<line x1="66.14" y1="504.93" x2="77.82" y2="504.93" stroke="#d3d3d3" stroke-width="0.9" stroke-linecap="butt"/>
<line x1="79.53" y1="504.93" x2="95.33" y2="504.93" stroke="#d3d3d3" stroke-width="0.9" stroke-linecap="butt"/>
<line x1="43.49" y1="507.96" x2="55.27" y2="507.96" stroke="#111" stroke-width="1.35" stroke-linecap="butt"/>
<line x1="66.14" y1="507.96" x2="77.82" y2="507.96" stroke="#d3d3d3" stroke-width="0.9" stroke-linecap="butt"/>
<line x1="79.53" y1="507.96" x2="95.33" y2="507.96" stroke="#d3d3d3" stroke-width="0.9" stroke-linecap="butt"/>
<line x1="43.49" y1="510.99" x2="55.27" y2="510.99" stroke="#111" stroke-width="1.35" stroke-linecap="butt"/>
<line x1="66.14" y1="510.99" x2="77.82" y2="510.99" stroke="#d3d3d3" stroke-width="0.9" stroke-linecap="butt"/>
<line x1="79.53" y1="510.99" x2="95.33" y2="510.99" stroke="#d3d3d3" stroke-width="0.9" stroke-linecap="butt"/>
<line x1="43.49" y1="514.03" x2="55.27" y2="514.03" stroke="#111" stroke-width="1.35" stroke-linecap="butt"/>
<line x1="66.14" y1="514.03" x2="77.82" y2="514.03" stroke="#d3d3d3" stroke-width="0.9" stroke-linecap="butt"/>
<line x1="79.53" y1="514.03" x2="95.33" y2="514.03" stroke="#d3d3d3" stroke-width="0.9" stroke-linecap="butt"/>
<line x1="43.49" y1="517.06" x2="55.27" y2="517.06" stroke="#111" stroke-width="1.35" stroke-linecap="butt"/>
<line x1="66.14" y1="517.06" x2="77.82" y2="517.06" stroke="#d3d3d3" stroke-width="0.9" stroke-linecap="butt"/>
<line x1="79.53" y1="517.06" x2="95.33" y2="517.06" stroke="#d3d3d3" stroke-width="0.9" stroke-linecap="butt"/>
<line x1="43.49" y1="520.09" x2="55.27" y2="520.09" stroke="#111" stroke-width="1.35" stroke-linecap="butt"/>
<line x1="66.14" y1="520.09" x2="77.82" y2="520.09" stroke="#d3d3d3" stroke-width="0.9" stroke-linecap="butt"/>
<line x1="79.53" y1="520.09" x2="95.33" y2="520.09" stroke="#d3d3d3" stroke-width="0.9" stroke-linecap="butt"/>
<line x1="43.49" y1="523.12" x2="55.27" y2="523.12" stroke="#111" stroke-width="1.35" stroke-linecap="butt"/>
<line x1="66.14" y1="523.12" x2="77.82" y2="523.12" stroke="#d3d3d3" stroke-width="0.9" stroke-linecap="butt"/>
<line x1="79.53" y1="523.12" x2="95.33" y2="523.12" stroke="#d3d3d3" stroke-width="0.9" stroke-linecap="butt"/>
<line x1="43.49" y1="526.16" x2="55.27" y2="526.16" stroke="#111" stroke-width="1.35" stroke-linecap="butt"/>
<line x1="66.14" y1="526.16" x2="77.82" y2="526.16" stroke="#d3d3d3" stroke-width="0.9" stroke-linecap="butt"/>
<line x1="79.53" y1="526.16" x2="95.33" y2="526.16" stroke="#d3d3d3" stroke-width="0.9" stroke-linecap="butt"/>
<line x1="43.49" y1="529.19" x2="55.27" y2="529.19" stroke="#111" stroke-width="1.35" stroke-linecap="butt"/>
<line x1="66.14" y1="529.19" x2="77.82" y2="529.19" stroke="#d3d3d3" stroke-width="0.9" stroke-linecap="butt"/>
<line x1="79.53" y1="529.19" x2="95.33" y2="529.19" stroke="#d3d3d3" stroke-width="0.9" stroke-linecap="butt"/>
<rect x="29.1" y="542.9" width="74.8" height="55.8" fill="#fff" stroke="#282828" stroke-width="1"/>
<rect x="29.1" y="542.9" width="74.8" height="11.16" fill="#1e1e1e"/>
<line x1="36.81" y1="548.98" x2="54.73" y2="548.98" stroke="#e6e6e6" stroke-width="1.3" stroke-linecap="round"/>
<rect x="76.76" y="546.79" width="9.11" height="3.29" rx="1.64" fill="#e4e2df"/>
<rect x="87.38" y="546.79" width="9.01" height="3.29" rx="1.64" fill="#1a80eb"/>
<rect x="36.81" y="552.57" width="21.63" height="10.06" rx="1.1" fill="#fff" stroke="#282828" stroke-width="1"/>
<line x1="38.81" y1="555.17" x2="44.31" y2="555.17" stroke="#d0d0d0" stroke-width="0.7" stroke-linecap="butt"/>
<rect x="61.04" y="552.57" width="21.63" height="10.06" rx="1.1" fill="#fff" stroke="#282828" stroke-width="1"/>
<line x1="63.04" y1="555.17" x2="68.54" y2="555.17" stroke="#d0d0d0" stroke-width="0.7" stroke-linecap="butt"/>
<rect x="84.87" y="552.57" width="21.73" height="10.06" rx="1.1" fill="#fff" stroke="#282828" stroke-width="1"/>
<line x1="86.87" y1="555.17" x2="92.37" y2="555.17" stroke="#d0d0d0" stroke-width="0.7" stroke-linecap="butt"/>
<rect x="36.81" y="564.82" width="21.63" height="10.46" rx="1.1" fill="#fff" stroke="#282828" stroke-width="1"/>
<line x1="38.81" y1="567.42" x2="44.31" y2="567.42" stroke="#d0d0d0" stroke-width="0.7" stroke-linecap="butt"/>
<rect x="61.04" y="564.82" width="21.63" height="10.46" rx="1.1" fill="#fff" stroke="#282828" stroke-width="1"/>
<line x1="63.04" y1="567.42" x2="68.54" y2="567.42" stroke="#d0d0d0" stroke-width="0.7" stroke-linecap="butt"/>
<rect x="84.87" y="564.82" width="21.73" height="10.46" rx="1.1" fill="#fff" stroke="#282828" stroke-width="1"/>
<line x1="86.87" y1="567.42" x2="92.37" y2="567.42" stroke="#d0d0d0" stroke-width="0.7" stroke-linecap="butt"/>
<rect x="36.81" y="577.48" width="21.63" height="10.26" rx="1.1" fill="#fff" stroke="#282828" stroke-width="1"/>
<line x1="38.81" y1="580.08" x2="44.31" y2="580.08" stroke="#d0d0d0" stroke-width="0.7" stroke-linecap="butt"/>
<rect x="61.04" y="577.48" width="21.63" height="10.26" rx="1.1" fill="#fff" stroke="#282828" stroke-width="1"/>
<line x1="63.04" y1="580.08" x2="68.54" y2="580.08" stroke="#d0d0d0" stroke-width="0.7" stroke-linecap="butt"/>
<rect x="84.87" y="577.48" width="21.73" height="10.26" rx="1.1" fill="#fff" stroke="#282828" stroke-width="1"/>
<line x1="86.87" y1="580.08" x2="92.37" y2="580.08" stroke="#d0d0d0" stroke-width="0.7" stroke-linecap="butt"/>
<rect x="36.81" y="590.23" width="21.63" height="10.46" rx="1.1" fill="#fff" stroke="#282828" stroke-width="1"/>
<line x1="38.81" y1="592.83" x2="44.31" y2="592.83" stroke="#d0d0d0" stroke-width="0.7" stroke-linecap="butt"/>
<rect x="61.04" y="590.23" width="21.63" height="10.46" rx="1.1" fill="#fff" stroke="#282828" stroke-width="1"/>
<line x1="63.04" y1="592.83" x2="68.54" y2="592.83" stroke="#d0d0d0" stroke-width="0.7" stroke-linecap="butt"/>
<rect x="84.87" y="590.23" width="21.73" height="10.46" rx="1.1" fill="#fff" stroke="#282828" stroke-width="1"/>
<line x1="86.87" y1="592.83" x2="92.37" y2="592.83" stroke="#d0d0d0" stroke-width="0.7" stroke-linecap="butt"/>
<rect x="209.4" y="317" width="79.3" height="57.7" rx="2" fill="#fde8a5" stroke="#dcbf73" stroke-width="0.8"/>
<text x="215.3" y="332.1" font-family="Liberation Sans, sans-serif" font-size="5.55" fill="#3b3526" stroke="#3b3526" stroke-width="0.16" text-anchor="start">There are two different</text>
<text x="215.3" y="339.98" font-family="Liberation Sans, sans-serif" font-size="5.55" fill="#3b3526" stroke="#3b3526" stroke-width="0.16" text-anchor="start">types of forms for creating</text>
<text x="215.3" y="347.86" font-family="Liberation Sans, sans-serif" font-size="5.55" fill="#3b3526" stroke="#3b3526" stroke-width="0.16" text-anchor="start">items:</text>
<text x="216.8" y="355.74" font-family="Liberation Sans, sans-serif" font-size="5.55" fill="#3b3526" stroke="#3b3526" stroke-width="0.16" text-anchor="start">1. Full page</text>
<text x="216.8" y="363.62" font-family="Liberation Sans, sans-serif" font-size="5.55" fill="#3b3526" stroke="#3b3526" stroke-width="0.16" text-anchor="start">2. Side panel</text>
<rect x="210.8" y="384.6" width="77.3" height="58" fill="#fff" stroke="#282828" stroke-width="1"/>
<rect x="210.8" y="384.6" width="77.3" height="12.18" fill="#1e1e1e"/>
<line x1="218.55" y1="390.64" x2="236.57" y2="390.64" stroke="#e6e6e6" stroke-width="1.3" stroke-linecap="round"/>
<rect x="260.12" y="388.63" width="9.06" height="3.32" rx="1.66" fill="#e4e2df"/>
<rect x="271.19" y="388.63" width="9.06" height="3.32" rx="1.66" fill="#1a80eb"/>
<rect x="218.25" y="394.27" width="61.9" height="45.61" rx="1.1" fill="#fff" stroke="#282828" stroke-width="1"/>
<line x1="220.16" y1="397.69" x2="241.5" y2="397.69" stroke="#111" stroke-width="1.2" stroke-linecap="butt"/>
<line x1="220.87" y1="400.71" x2="249.05" y2="400.71" stroke="#dcdcdc" stroke-width="0.8" stroke-linecap="butt"/>
<rect x="220.16" y="404.74" width="28.89" height="3.12" rx="1.4" fill="#d4d4d4" stroke="#282828" stroke-width="0.8"/>
<rect x="220.16" y="409.27" width="28.89" height="2.62" rx="1.4" fill="#d4d4d4" stroke="#282828" stroke-width="0.8"/>
<rect x="220.16" y="414.3" width="28.89" height="2.62" rx="1.4" fill="#d4d4d4" stroke="#282828" stroke-width="0.8"/>
<rect x="220.16" y="418.84" width="58.08" height="11.88" rx="1" fill="#fff" stroke="#282828" stroke-width="0.9"/>
<rect x="259.11" y="435.95" width="8.05" height="2.42" rx="1.2" fill="#dedede"/>
<rect x="269.68" y="435.95" width="8.56" height="2.42" rx="1.2" fill="#1a80eb"/>
<rect x="209.2" y="448" width="78.8" height="41.4" rx="2" fill="#f24d1f"/>
<text x="248.6" y="459.4" font-family="Liberation Sans, sans-serif" font-size="5.55" fill="#fde3d8" stroke="#fde3d8" stroke-width="0.16" text-anchor="middle">Before users can proceed</text>
<text x="248.6" y="467.4" font-family="Liberation Sans, sans-serif" font-size="5.55" fill="#fde3d8" stroke="#fde3d8" stroke-width="0.16" text-anchor="middle">with the creation process,</text>
<text x="248.6" y="475.1" font-family="Liberation Sans, sans-serif" font-size="5.55" fill="#fde3d8" stroke="#fde3d8" stroke-width="0.16" text-anchor="middle">any errors must be</text>
<text x="248.6" y="482.9" font-family="Liberation Sans, sans-serif" font-size="5.55" fill="#fde3d8" stroke="#fde3d8" stroke-width="0.16" text-anchor="middle">addressed.</text>
<rect x="210.5" y="495.3" width="77.4" height="57.6" fill="#fff" stroke="#282828" stroke-width="1"/>
<rect x="210.5" y="495.3" width="45.35" height="11.64" fill="#1e1e1e"/>
<rect x="255.85" y="495.3" width="32.05" height="57.6" fill="#fff" stroke="#1a1a1a" stroke-width="1.2"/>
<line x1="258.07" y1="498.71" x2="268.95" y2="498.71" stroke="#222" stroke-width="1.1" stroke-linecap="butt"/>
<line x1="279.03" y1="498.71" x2="285.88" y2="498.71" stroke="#dddddd" stroke-width="0.8" stroke-linecap="butt"/>
<rect x="258.07" y="503.03" width="27.82" height="23.18" fill="#d7d7d7"/>
<rect x="258.07" y="527.61" width="27.82" height="22.78" fill="#d7d7d7"/>
<line x1="255.85" y1="552.9" x2="287.9" y2="552.9" stroke="#111" stroke-width="1.5" stroke-linecap="butt"/>
<rect x="370.3" y="337.1" width="75.7" height="56.4" fill="#fff" stroke="#282828" stroke-width="1"/>
<rect x="370.3" y="337.1" width="75.7" height="11.08" fill="#1e1e1e"/>
<line x1="378.1" y1="343.24" x2="396.24" y2="343.24" stroke="#e6e6e6" stroke-width="1.3" stroke-linecap="round"/>
<rect x="418.54" y="341.03" width="9.22" height="3.32" rx="1.66" fill="#e4e2df"/>
<rect x="429.28" y="341.03" width="9.12" height="3.32" rx="1.66" fill="#1a80eb"/>
<rect x="378.1" y="346.47" width="59.49" height="12.69" rx="1.1" fill="#fff" stroke="#282828" stroke-width="1"/>
<line x1="381.1" y1="349.89" x2="392.87" y2="349.89" stroke="#d3d3d3" stroke-width="0.8" stroke-linecap="butt"/>
<line x1="394.47" y1="349.89" x2="406.24" y2="349.89" stroke="#d3d3d3" stroke-width="0.8" stroke-linecap="butt"/>
<line x1="407.85" y1="349.89" x2="419.61" y2="349.89" stroke="#d3d3d3" stroke-width="0.8" stroke-linecap="butt"/>
<line x1="421.22" y1="349.89" x2="432.98" y2="349.89" stroke="#d3d3d3" stroke-width="0.8" stroke-linecap="butt"/>
<line x1="381.1" y1="352.81" x2="392.87" y2="352.81" stroke="#d3d3d3" stroke-width="0.8" stroke-linecap="butt"/>
<line x1="394.47" y1="352.81" x2="406.24" y2="352.81" stroke="#d3d3d3" stroke-width="0.8" stroke-linecap="butt"/>
<line x1="407.85" y1="352.81" x2="419.61" y2="352.81" stroke="#d3d3d3" stroke-width="0.8" stroke-linecap="butt"/>
<line x1="421.22" y1="352.81" x2="432.98" y2="352.81" stroke="#d3d3d3" stroke-width="0.8" stroke-linecap="butt"/>
<line x1="381.1" y1="355.73" x2="392.87" y2="355.73" stroke="#d3d3d3" stroke-width="0.8" stroke-linecap="butt"/>
<line x1="394.47" y1="355.73" x2="406.24" y2="355.73" stroke="#d3d3d3" stroke-width="0.8" stroke-linecap="butt"/>
<line x1="407.85" y1="355.73" x2="419.61" y2="355.73" stroke="#d3d3d3" stroke-width="0.8" stroke-linecap="butt"/>
<line x1="421.22" y1="355.73" x2="432.98" y2="355.73" stroke="#d3d3d3" stroke-width="0.8" stroke-linecap="butt"/>
<rect x="378.1" y="364.8" width="59.49" height="13.7" rx="1.1" fill="#fff" stroke="#282828" stroke-width="1"/>
<line x1="381.1" y1="368.49" x2="392.87" y2="368.49" stroke="#d3d3d3" stroke-width="0.8" stroke-linecap="butt"/>
<line x1="394.47" y1="368.49" x2="406.24" y2="368.49" stroke="#d3d3d3" stroke-width="0.8" stroke-linecap="butt"/>
<line x1="407.85" y1="368.49" x2="419.61" y2="368.49" stroke="#d3d3d3" stroke-width="0.8" stroke-linecap="butt"/>
<line x1="421.22" y1="368.49" x2="432.98" y2="368.49" stroke="#d3d3d3" stroke-width="0.8" stroke-linecap="butt"/>
<line x1="381.1" y1="371.64" x2="392.87" y2="371.64" stroke="#d3d3d3" stroke-width="0.8" stroke-linecap="butt"/>
<line x1="394.47" y1="371.64" x2="406.24" y2="371.64" stroke="#d3d3d3" stroke-width="0.8" stroke-linecap="butt"/>
<line x1="407.85" y1="371.64" x2="419.61" y2="371.64" stroke="#d3d3d3" stroke-width="0.8" stroke-linecap="butt"/>
<line x1="421.22" y1="371.64" x2="432.98" y2="371.64" stroke="#d3d3d3" stroke-width="0.8" stroke-linecap="butt"/>
<line x1="381.1" y1="374.8" x2="392.87" y2="374.8" stroke="#d3d3d3" stroke-width="0.8" stroke-linecap="butt"/>
<line x1="394.47" y1="374.8" x2="406.24" y2="374.8" stroke="#d3d3d3" stroke-width="0.8" stroke-linecap="butt"/>
<line x1="407.85" y1="374.8" x2="419.61" y2="374.8" stroke="#d3d3d3" stroke-width="0.8" stroke-linecap="butt"/>
<line x1="421.22" y1="374.8" x2="432.98" y2="374.8" stroke="#d3d3d3" stroke-width="0.8" stroke-linecap="butt"/>
<rect x="378.1" y="381.92" width="59.49" height="12.89" rx="1.1" fill="#fff" stroke="#282828" stroke-width="1"/>
<line x1="381.1" y1="385.4" x2="392.87" y2="385.4" stroke="#d3d3d3" stroke-width="0.8" stroke-linecap="butt"/>
<line x1="394.47" y1="385.4" x2="406.24" y2="385.4" stroke="#d3d3d3" stroke-width="0.8" stroke-linecap="butt"/>
<line x1="407.85" y1="385.4" x2="419.61" y2="385.4" stroke="#d3d3d3" stroke-width="0.8" stroke-linecap="butt"/>
<line x1="421.22" y1="385.4" x2="432.98" y2="385.4" stroke="#d3d3d3" stroke-width="0.8" stroke-linecap="butt"/>
<line x1="381.1" y1="388.36" x2="392.87" y2="388.36" stroke="#d3d3d3" stroke-width="0.8" stroke-linecap="butt"/>
<line x1="394.47" y1="388.36" x2="406.24" y2="388.36" stroke="#d3d3d3" stroke-width="0.8" stroke-linecap="butt"/>
<line x1="407.85" y1="388.36" x2="419.61" y2="388.36" stroke="#d3d3d3" stroke-width="0.8" stroke-linecap="butt"/>
<line x1="421.22" y1="388.36" x2="432.98" y2="388.36" stroke="#d3d3d3" stroke-width="0.8" stroke-linecap="butt"/>
<line x1="381.1" y1="391.33" x2="392.87" y2="391.33" stroke="#d3d3d3" stroke-width="0.8" stroke-linecap="butt"/>
<line x1="394.47" y1="391.33" x2="406.24" y2="391.33" stroke="#d3d3d3" stroke-width="0.8" stroke-linecap="butt"/>
<line x1="407.85" y1="391.33" x2="419.61" y2="391.33" stroke="#d3d3d3" stroke-width="0.8" stroke-linecap="butt"/>
<line x1="421.22" y1="391.33" x2="432.98" y2="391.33" stroke="#d3d3d3" stroke-width="0.8" stroke-linecap="butt"/>
<line x1="378.1" y1="362.48" x2="383.67" y2="362.48" stroke="#dadada" stroke-width="0.7" stroke-linecap="butt"/>
<line x1="385.53" y1="362.48" x2="391.09" y2="362.48" stroke="#dadada" stroke-width="0.7" stroke-linecap="butt"/>
<line x1="392.95" y1="362.48" x2="398.52" y2="362.48" stroke="#dadada" stroke-width="0.7" stroke-linecap="butt"/>
<line x1="400.37" y1="362.48" x2="405.94" y2="362.48" stroke="#dadada" stroke-width="0.7" stroke-linecap="butt"/>
<rect x="370.3" y="431.3" width="75.7" height="56.4" fill="#fff" stroke="#282828" stroke-width="1"/>
<rect x="370.3" y="431.3" width="75.7" height="14.76" fill="#1e1e1e"/>
<line x1="378.1" y1="437.36" x2="396.24" y2="437.36" stroke="#e6e6e6" stroke-width="1.3" stroke-linecap="round"/>
<rect x="418.54" y="435.34" width="9.22" height="3.34" rx="1.67" fill="#e4e2df"/>
<rect x="429.28" y="435.34" width="9.12" height="3.34" rx="1.67" fill="#1a80eb"/>
<line x1="379.32" y1="443.53" x2="380.03" y2="443.53" stroke="#cfcfcf" stroke-width="0.9" stroke-linecap="butt"/>
<line x1="383.68" y1="443.53" x2="395.63" y2="443.53" stroke="#d8d8d8" stroke-width="1" stroke-linecap="butt"/>
<line x1="406.48" y1="443.53" x2="418.44" y2="443.53" stroke="#d8d8d8" stroke-width="1" stroke-linecap="butt"/>
<line x1="419.96" y1="443.53" x2="436.88" y2="443.53" stroke="#d8d8d8" stroke-width="1" stroke-linecap="butt"/>
<rect x="378.1" y="446.36" width="59.49" height="43.56" rx="1.1" fill="#fff" stroke="#282828" stroke-width="1"/>
<line x1="383.68" y1="450.2" x2="395.53" y2="450.2" stroke="#111" stroke-width="1.35" stroke-linecap="butt"/>
<line x1="406.48" y1="450.2" x2="418.23" y2="450.2" stroke="#d3d3d3" stroke-width="0.9" stroke-linecap="butt"/>
<line x1="419.96" y1="450.2" x2="435.87" y2="450.2" stroke="#d3d3d3" stroke-width="0.9" stroke-linecap="butt"/>
<line x1="383.68" y1="453.23" x2="395.53" y2="453.23" stroke="#111" stroke-width="1.35" stroke-linecap="butt"/>
<line x1="406.48" y1="453.23" x2="418.23" y2="453.23" stroke="#d3d3d3" stroke-width="0.9" stroke-linecap="butt"/>
<line x1="419.96" y1="453.23" x2="435.87" y2="453.23" stroke="#d3d3d3" stroke-width="0.9" stroke-linecap="butt"/>
<line x1="383.68" y1="456.27" x2="395.53" y2="456.27" stroke="#111" stroke-width="1.35" stroke-linecap="butt"/>
<line x1="406.48" y1="456.27" x2="418.23" y2="456.27" stroke="#d3d3d3" stroke-width="0.9" stroke-linecap="butt"/>
<line x1="419.96" y1="456.27" x2="435.87" y2="456.27" stroke="#d3d3d3" stroke-width="0.9" stroke-linecap="butt"/>
<line x1="383.68" y1="459.3" x2="395.53" y2="459.3" stroke="#111" stroke-width="1.35" stroke-linecap="butt"/>
<line x1="406.48" y1="459.3" x2="418.23" y2="459.3" stroke="#d3d3d3" stroke-width="0.9" stroke-linecap="butt"/>
<line x1="419.96" y1="459.3" x2="435.87" y2="459.3" stroke="#d3d3d3" stroke-width="0.9" stroke-linecap="butt"/>
<line x1="383.68" y1="462.33" x2="395.53" y2="462.33" stroke="#111" stroke-width="1.35" stroke-linecap="butt"/>
<line x1="406.48" y1="462.33" x2="418.23" y2="462.33" stroke="#d3d3d3" stroke-width="0.9" stroke-linecap="butt"/>
<line x1="419.96" y1="462.33" x2="435.87" y2="462.33" stroke="#d3d3d3" stroke-width="0.9" stroke-linecap="butt"/>
<line x1="383.68" y1="465.36" x2="395.53" y2="465.36" stroke="#111" stroke-width="1.35" stroke-linecap="butt"/>
<line x1="406.48" y1="465.36" x2="418.23" y2="465.36" stroke="#d3d3d3" stroke-width="0.9" stroke-linecap="butt"/>
<line x1="419.96" y1="465.36" x2="435.87" y2="465.36" stroke="#d3d3d3" stroke-width="0.9" stroke-linecap="butt"/>
<line x1="383.68" y1="468.39" x2="395.53" y2="468.39" stroke="#111" stroke-width="1.35" stroke-linecap="butt"/>
<line x1="406.48" y1="468.39" x2="418.23" y2="468.39" stroke="#d3d3d3" stroke-width="0.9" stroke-linecap="butt"/>
<line x1="419.96" y1="468.39" x2="435.87" y2="468.39" stroke="#d3d3d3" stroke-width="0.9" stroke-linecap="butt"/>
<line x1="383.68" y1="471.43" x2="395.53" y2="471.43" stroke="#111" stroke-width="1.35" stroke-linecap="butt"/>
<line x1="406.48" y1="471.43" x2="418.23" y2="471.43" stroke="#d3d3d3" stroke-width="0.9" stroke-linecap="butt"/>
<line x1="419.96" y1="471.43" x2="435.87" y2="471.43" stroke="#d3d3d3" stroke-width="0.9" stroke-linecap="butt"/>
<line x1="383.68" y1="474.46" x2="395.53" y2="474.46" stroke="#111" stroke-width="1.35" stroke-linecap="butt"/>
<line x1="406.48" y1="474.46" x2="418.23" y2="474.46" stroke="#d3d3d3" stroke-width="0.9" stroke-linecap="butt"/>
<line x1="419.96" y1="474.46" x2="435.87" y2="474.46" stroke="#d3d3d3" stroke-width="0.9" stroke-linecap="butt"/>
<line x1="383.68" y1="477.49" x2="395.53" y2="477.49" stroke="#111" stroke-width="1.35" stroke-linecap="butt"/>
<line x1="406.48" y1="477.49" x2="418.23" y2="477.49" stroke="#d3d3d3" stroke-width="0.9" stroke-linecap="butt"/>
<line x1="419.96" y1="477.49" x2="435.87" y2="477.49" stroke="#d3d3d3" stroke-width="0.9" stroke-linecap="butt"/>
<line x1="383.68" y1="480.52" x2="395.53" y2="480.52" stroke="#111" stroke-width="1.35" stroke-linecap="butt"/>
<line x1="406.48" y1="480.52" x2="418.23" y2="480.52" stroke="#d3d3d3" stroke-width="0.9" stroke-linecap="butt"/>
<line x1="419.96" y1="480.52" x2="435.87" y2="480.52" stroke="#d3d3d3" stroke-width="0.9" stroke-linecap="butt"/>
<line x1="383.68" y1="483.56" x2="395.53" y2="483.56" stroke="#111" stroke-width="1.35" stroke-linecap="butt"/>
<line x1="406.48" y1="483.56" x2="418.23" y2="483.56" stroke="#d3d3d3" stroke-width="0.9" stroke-linecap="butt"/>
<line x1="419.96" y1="483.56" x2="435.87" y2="483.56" stroke="#d3d3d3" stroke-width="0.9" stroke-linecap="butt"/>
<line x1="383.68" y1="486.59" x2="395.53" y2="486.59" stroke="#111" stroke-width="1.35" stroke-linecap="butt"/>
<line x1="406.48" y1="486.59" x2="418.23" y2="486.59" stroke="#d3d3d3" stroke-width="0.9" stroke-linecap="butt"/>
<line x1="419.96" y1="486.59" x2="435.87" y2="486.59" stroke="#d3d3d3" stroke-width="0.9" stroke-linecap="butt"/>
<rect x="370" y="496.1" width="76.2" height="56.5" fill="#fff" stroke="#282828" stroke-width="1"/>
<rect x="370" y="496.1" width="76.2" height="11.3" fill="#1e1e1e"/>
<line x1="377.85" y1="502.25" x2="396.11" y2="502.25" stroke="#e6e6e6" stroke-width="1.3" stroke-linecap="round"/>
<rect x="418.56" y="500.03" width="9.28" height="3.33" rx="1.66" fill="#e4e2df"/>
<rect x="429.37" y="500.03" width="9.18" height="3.33" rx="1.66" fill="#1a80eb"/>
<rect x="377.85" y="505.89" width="22.03" height="10.19" rx="1.1" fill="#fff" stroke="#282828" stroke-width="1"/>
<line x1="379.85" y1="508.49" x2="385.35" y2="508.49" stroke="#d0d0d0" stroke-width="0.7" stroke-linecap="butt"/>
<rect x="402.54" y="505.89" width="22.03" height="10.19" rx="1.1" fill="#fff" stroke="#282828" stroke-width="1"/>
<line x1="404.54" y1="508.49" x2="410.04" y2="508.49" stroke="#d0d0d0" stroke-width="0.7" stroke-linecap="butt"/>
<rect x="426.82" y="505.89" width="22.14" height="10.19" rx="1.1" fill="#fff" stroke="#282828" stroke-width="1"/>
<line x1="428.82" y1="508.49" x2="434.32" y2="508.49" stroke="#d0d0d0" stroke-width="0.7" stroke-linecap="butt"/>
<rect x="377.85" y="518.3" width="22.03" height="10.59" rx="1.1" fill="#fff" stroke="#282828" stroke-width="1"/>
<line x1="379.85" y1="520.9" x2="385.35" y2="520.9" stroke="#d0d0d0" stroke-width="0.7" stroke-linecap="butt"/>
<rect x="402.54" y="518.3" width="22.03" height="10.59" rx="1.1" fill="#fff" stroke="#282828" stroke-width="1"/>
<line x1="404.54" y1="520.9" x2="410.04" y2="520.9" stroke="#d0d0d0" stroke-width="0.7" stroke-linecap="butt"/>
<rect x="426.82" y="518.3" width="22.14" height="10.59" rx="1.1" fill="#fff" stroke="#282828" stroke-width="1"/>
<line x1="428.82" y1="520.9" x2="434.32" y2="520.9" stroke="#d0d0d0" stroke-width="0.7" stroke-linecap="butt"/>
<rect x="377.85" y="531.11" width="22.03" height="10.39" rx="1.1" fill="#fff" stroke="#282828" stroke-width="1"/>
<line x1="379.85" y1="533.71" x2="385.35" y2="533.71" stroke="#d0d0d0" stroke-width="0.7" stroke-linecap="butt"/>
<rect x="402.54" y="531.11" width="22.03" height="10.39" rx="1.1" fill="#fff" stroke="#282828" stroke-width="1"/>
<line x1="404.54" y1="533.71" x2="410.04" y2="533.71" stroke="#d0d0d0" stroke-width="0.7" stroke-linecap="butt"/>
<rect x="426.82" y="531.11" width="22.14" height="10.39" rx="1.1" fill="#fff" stroke="#282828" stroke-width="1"/>
<line x1="428.82" y1="533.71" x2="434.32" y2="533.71" stroke="#d0d0d0" stroke-width="0.7" stroke-linecap="butt"/>
<rect x="377.85" y="544.02" width="22.03" height="10.59" rx="1.1" fill="#fff" stroke="#282828" stroke-width="1"/>
<line x1="379.85" y1="546.62" x2="385.35" y2="546.62" stroke="#d0d0d0" stroke-width="0.7" stroke-linecap="butt"/>
<rect x="402.54" y="544.02" width="22.03" height="10.59" rx="1.1" fill="#fff" stroke="#282828" stroke-width="1"/>
<line x1="404.54" y1="546.62" x2="410.04" y2="546.62" stroke="#d0d0d0" stroke-width="0.7" stroke-linecap="butt"/>
<rect x="426.82" y="544.02" width="22.14" height="10.59" rx="1.1" fill="#fff" stroke="#282828" stroke-width="1"/>
<line x1="428.82" y1="546.62" x2="434.32" y2="546.62" stroke="#d0d0d0" stroke-width="0.7" stroke-linecap="butt"/>
<rect x="370" y="560.7" width="76.2" height="57" fill="#fff" stroke="#282828" stroke-width="1"/>
<rect x="370" y="560.7" width="76.2" height="12.02" fill="#1e1e1e"/>
<line x1="377.67" y1="566.86" x2="395.5" y2="566.86" stroke="#e6e6e6" stroke-width="1.3" stroke-linecap="round"/>
<rect x="419.01" y="564.18" width="8.47" height="3.48" rx="1.74" fill="#e4e2df"/>
<rect x="429.47" y="564.18" width="8.96" height="3.48" rx="1.74" fill="#1a80eb"/>
<rect x="377.67" y="570.53" width="43.03" height="27.61" rx="1.1" fill="#fff" stroke="#282828" stroke-width="1"/>
<line x1="379.86" y1="572.62" x2="390.42" y2="572.62" stroke="#111" stroke-width="1.2" stroke-linecap="butt"/>
<line x1="411.84" y1="572.62" x2="418.81" y2="572.62" stroke="#dddddd" stroke-width="0.7" stroke-linecap="butt"/>
<rect x="379.66" y="574.6" width="38.85" height="21.85" fill="#d7d7d7"/>
<line x1="377.67" y1="600.62" x2="384.1" y2="600.62" stroke="#dadada" stroke-width="0.7" stroke-linecap="butt"/>
<line x1="385.71" y1="600.62" x2="392.15" y2="600.62" stroke="#dadada" stroke-width="0.7" stroke-linecap="butt"/>
<line x1="393.76" y1="600.62" x2="400.19" y2="600.62" stroke="#dadada" stroke-width="0.7" stroke-linecap="butt"/>
<line x1="401.8" y1="600.62" x2="408.23" y2="600.62" stroke="#dadada" stroke-width="0.7" stroke-linecap="butt"/>
<rect x="377.67" y="602.9" width="43.03" height="13.7" rx="1.1" fill="#fff" stroke="#282828" stroke-width="1"/>
<line x1="380.17" y1="607.01" x2="388.54" y2="607.01" stroke="#d3d3d3" stroke-width="0.8" stroke-linecap="butt"/>
<line x1="389.68" y1="607.01" x2="398.04" y2="607.01" stroke="#d3d3d3" stroke-width="0.8" stroke-linecap="butt"/>
<line x1="399.19" y1="607.01" x2="407.55" y2="607.01" stroke="#d3d3d3" stroke-width="0.8" stroke-linecap="butt"/>
<line x1="408.69" y1="607.01" x2="417.06" y2="607.01" stroke="#d3d3d3" stroke-width="0.8" stroke-linecap="butt"/>
<line x1="380.17" y1="610.03" x2="388.54" y2="610.03" stroke="#d3d3d3" stroke-width="0.8" stroke-linecap="butt"/>
<line x1="389.68" y1="610.03" x2="398.04" y2="610.03" stroke="#d3d3d3" stroke-width="0.8" stroke-linecap="butt"/>
<line x1="399.19" y1="610.03" x2="407.55" y2="610.03" stroke="#d3d3d3" stroke-width="0.8" stroke-linecap="butt"/>
<line x1="408.69" y1="610.03" x2="417.06" y2="610.03" stroke="#d3d3d3" stroke-width="0.8" stroke-linecap="butt"/>
<line x1="380.17" y1="613.04" x2="388.54" y2="613.04" stroke="#d3d3d3" stroke-width="0.8" stroke-linecap="butt"/>
<line x1="389.68" y1="613.04" x2="398.04" y2="613.04" stroke="#d3d3d3" stroke-width="0.8" stroke-linecap="butt"/>
<line x1="399.19" y1="613.04" x2="407.55" y2="613.04" stroke="#d3d3d3" stroke-width="0.8" stroke-linecap="butt"/>
<line x1="408.69" y1="613.04" x2="417.06" y2="613.04" stroke="#d3d3d3" stroke-width="0.8" stroke-linecap="butt"/>
<rect x="423.09" y="570.53" width="15.04" height="46.18" rx="1.1" fill="#fff" stroke="#282828" stroke-width="1"/>
<line x1="424.49" y1="572.62" x2="429.47" y2="572.62" stroke="#111" stroke-width="1.1" stroke-linecap="butt"/>
<line x1="432.25" y1="572.62" x2="436.74" y2="572.62" stroke="#dddddd" stroke-width="0.7" stroke-linecap="butt"/>
<line x1="424.78" y1="575.79" x2="428.27" y2="575.79" stroke="#d3d3d3" stroke-width="0.7" stroke-linecap="butt"/>
<line x1="430.76" y1="575.79" x2="436.74" y2="575.79" stroke="#d3d3d3" stroke-width="0.7" stroke-linecap="butt"/>
<line x1="424.78" y1="578.87" x2="428.27" y2="578.87" stroke="#d3d3d3" stroke-width="0.7" stroke-linecap="butt"/>
<line x1="430.76" y1="578.87" x2="436.74" y2="578.87" stroke="#d3d3d3" stroke-width="0.7" stroke-linecap="butt"/>
<line x1="424.78" y1="581.95" x2="428.27" y2="581.95" stroke="#d3d3d3" stroke-width="0.7" stroke-linecap="butt"/>
<line x1="430.76" y1="581.95" x2="436.74" y2="581.95" stroke="#d3d3d3" stroke-width="0.7" stroke-linecap="butt"/>
<line x1="424.78" y1="585.03" x2="428.27" y2="585.03" stroke="#d3d3d3" stroke-width="0.7" stroke-linecap="butt"/>
<line x1="430.76" y1="585.03" x2="436.74" y2="585.03" stroke="#d3d3d3" stroke-width="0.7" stroke-linecap="butt"/>
<line x1="424.78" y1="588.11" x2="428.27" y2="588.11" stroke="#d3d3d3" stroke-width="0.7" stroke-linecap="butt"/>
<line x1="430.76" y1="588.11" x2="436.74" y2="588.11" stroke="#d3d3d3" stroke-width="0.7" stroke-linecap="butt"/>
<line x1="424.78" y1="591.19" x2="428.27" y2="591.19" stroke="#d3d3d3" stroke-width="0.7" stroke-linecap="butt"/>
<line x1="430.76" y1="591.19" x2="436.74" y2="591.19" stroke="#d3d3d3" stroke-width="0.7" stroke-linecap="butt"/>
<line x1="424.78" y1="594.26" x2="428.27" y2="594.26" stroke="#d3d3d3" stroke-width="0.7" stroke-linecap="butt"/>
<line x1="430.76" y1="594.26" x2="436.74" y2="594.26" stroke="#d3d3d3" stroke-width="0.7" stroke-linecap="butt"/>
</svg>
</body></html>
